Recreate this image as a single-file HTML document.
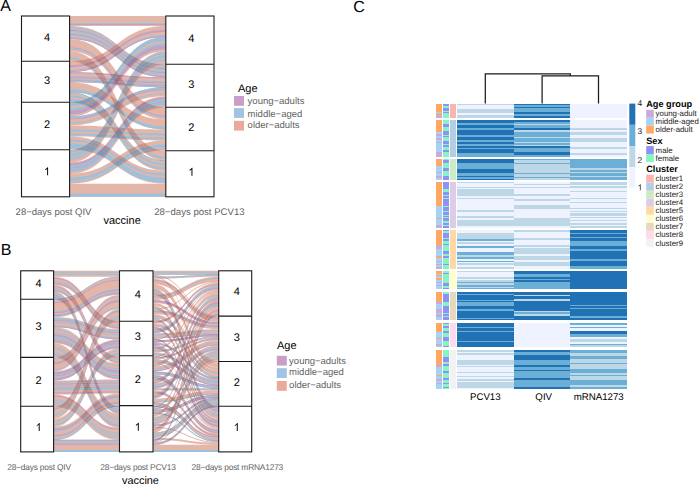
<!DOCTYPE html>
<html><head><meta charset="utf-8"><style>html,body{margin:0;padding:0;background:#fff;} svg text{font-family:"Liberation Sans", sans-serif;text-rendering:geometricPrecision;}</style></head>
<body>
<svg width="699" height="485" viewBox="0 0 699 485" style="display:block;font-family:'Liberation Sans', sans-serif">
<rect width="699" height="485" fill="#fff"/>
<g opacity="0.5"><path d="M69.60,16.00 C117.70,16.00 117.70,16.00 165.80,16.00 L165.80,26.04 C117.70,26.04 117.70,26.04 69.60,26.04 Z" fill="#c96f55"/><path d="M69.60,23.03 C117.70,23.03 117.70,23.03 165.80,23.03 L165.80,24.04 C117.70,24.04 117.70,24.04 69.60,24.04 Z" fill="#3d85b9"/><path d="M69.60,24.04 C117.70,24.04 117.70,24.04 165.80,24.04 L165.80,25.04 C117.70,25.04 117.70,25.04 69.60,25.04 Z" fill="#81478d"/></g>
<g opacity="0.5"><path d="M69.60,26.04 C117.70,26.04 117.70,64.21 165.80,64.21 L165.80,77.27 C117.70,77.27 117.70,39.10 69.60,39.10 Z" fill="#c96f55"/><path d="M69.60,27.05 C117.70,27.05 117.70,65.22 165.80,65.22 L165.80,66.22 C117.70,66.22 117.70,28.05 69.60,28.05 Z" fill="#3d85b9"/><path d="M69.60,29.06 C117.70,29.06 117.70,67.23 165.80,67.23 L165.80,68.23 C117.70,68.23 117.70,30.06 69.60,30.06 Z" fill="#3d85b9"/><path d="M69.60,30.06 C117.70,30.06 117.70,68.23 165.80,68.23 L165.80,69.24 C117.70,69.24 117.70,31.07 69.60,31.07 Z" fill="#81478d"/><path d="M69.60,31.07 C117.70,31.07 117.70,69.24 165.80,69.24 L165.80,70.24 C117.70,70.24 117.70,32.07 69.60,32.07 Z" fill="#3d85b9"/><path d="M69.60,33.08 C117.70,33.08 117.70,71.24 165.80,71.24 L165.80,72.25 C117.70,72.25 117.70,34.08 69.60,34.08 Z" fill="#3d85b9"/><path d="M69.60,34.08 C117.70,34.08 117.70,72.25 165.80,72.25 L165.80,73.25 C117.70,73.25 117.70,35.08 69.60,35.08 Z" fill="#81478d"/><path d="M69.60,35.08 C117.70,35.08 117.70,73.25 165.80,73.25 L165.80,74.26 C117.70,74.26 117.70,36.09 69.60,36.09 Z" fill="#3d85b9"/><path d="M69.60,37.09 C117.70,37.09 117.70,75.26 165.80,75.26 L165.80,76.27 C117.70,76.27 117.70,38.10 69.60,38.10 Z" fill="#3d85b9"/><path d="M69.60,38.10 C117.70,38.10 117.70,76.27 165.80,76.27 L165.80,77.27 C117.70,77.27 117.70,39.10 69.60,39.10 Z" fill="#81478d"/></g>
<g opacity="0.5"><path d="M69.60,39.10 C117.70,39.10 117.70,107.40 165.80,107.40 L165.80,119.46 C117.70,119.46 117.70,51.16 69.60,51.16 Z" fill="#c96f55"/><path d="M69.60,47.14 C117.70,47.14 117.70,115.44 165.80,115.44 L165.80,116.44 C117.70,116.44 117.70,48.14 69.60,48.14 Z" fill="#81478d"/><path d="M69.60,48.14 C117.70,48.14 117.70,116.44 165.80,116.44 L165.80,117.45 C117.70,117.45 117.70,49.15 69.60,49.15 Z" fill="#3d85b9"/></g>
<g opacity="0.5"><path d="M69.60,51.16 C117.70,51.16 117.70,150.60 165.80,150.60 L165.80,160.64 C117.70,160.64 117.70,61.20 69.60,61.20 Z" fill="#c96f55"/><path d="M69.60,57.18 C117.70,57.18 117.70,156.62 165.80,156.62 L165.80,158.63 C117.70,158.63 117.70,59.19 69.60,59.19 Z" fill="#3d85b9"/></g>
<g opacity="0.5"><path d="M69.60,61.20 C117.70,61.20 117.70,26.04 165.80,26.04 L165.80,37.09 C117.70,37.09 117.70,72.25 69.60,72.25 Z" fill="#c96f55"/><path d="M69.60,65.22 C117.70,65.22 117.70,30.06 165.80,30.06 L165.80,32.07 C117.70,32.07 117.70,67.23 69.60,67.23 Z" fill="#81478d"/><path d="M69.60,70.24 C117.70,70.24 117.70,35.08 165.80,35.08 L165.80,36.09 C117.70,36.09 117.70,71.24 69.60,71.24 Z" fill="#3d85b9"/><path d="M69.60,71.24 C117.70,71.24 117.70,36.09 165.80,36.09 L165.80,37.09 C117.70,37.09 117.70,72.25 69.60,72.25 Z" fill="#81478d"/></g>
<g opacity="0.5"><path d="M69.60,72.25 C117.70,72.25 117.70,77.27 165.80,77.27 L165.80,87.32 C117.70,87.32 117.70,82.29 69.60,82.29 Z" fill="#c96f55"/><path d="M69.60,72.25 C117.70,72.25 117.70,77.27 165.80,77.27 L165.80,78.28 C117.70,78.28 117.70,73.25 69.60,73.25 Z" fill="#81478d"/><path d="M69.60,76.27 C117.70,76.27 117.70,81.29 165.80,81.29 L165.80,82.29 C117.70,82.29 117.70,77.27 69.60,77.27 Z" fill="#3d85b9"/><path d="M69.60,77.27 C117.70,77.27 117.70,82.29 165.80,82.29 L165.80,83.30 C117.70,83.30 117.70,78.28 69.60,78.28 Z" fill="#81478d"/><path d="M69.60,79.28 C117.70,79.28 117.70,84.30 165.80,84.30 L165.80,85.31 C117.70,85.31 117.70,80.28 69.60,80.28 Z" fill="#3d85b9"/><path d="M69.60,80.28 C117.70,80.28 117.70,85.31 165.80,85.31 L165.80,86.31 C117.70,86.31 117.70,81.29 69.60,81.29 Z" fill="#81478d"/><path d="M69.60,81.29 C117.70,81.29 117.70,86.31 165.80,86.31 L165.80,87.32 C117.70,87.32 117.70,82.29 69.60,82.29 Z" fill="#3d85b9"/></g>
<g opacity="0.5"><path d="M69.60,82.29 C117.70,82.29 117.70,119.46 165.80,119.46 L165.80,129.50 C117.70,129.50 117.70,92.34 69.60,92.34 Z" fill="#c96f55"/><path d="M69.60,89.32 C117.70,89.32 117.70,126.49 165.80,126.49 L165.80,129.50 C117.70,129.50 117.70,92.34 69.60,92.34 Z" fill="#3d85b9"/></g>
<g opacity="0.5"><path d="M69.60,92.34 C117.70,92.34 117.70,160.64 165.80,160.64 L165.80,170.68 C117.70,170.68 117.70,102.38 69.60,102.38 Z" fill="#c96f55"/><path d="M69.60,92.34 C117.70,92.34 117.70,160.64 165.80,160.64 L165.80,161.64 C117.70,161.64 117.70,93.34 69.60,93.34 Z" fill="#3d85b9"/><path d="M69.60,95.35 C117.70,95.35 117.70,163.65 165.80,163.65 L165.80,165.66 C117.70,165.66 117.70,97.36 69.60,97.36 Z" fill="#3d85b9"/><path d="M69.60,99.37 C117.70,99.37 117.70,167.67 165.80,167.67 L165.80,169.68 C117.70,169.68 117.70,101.38 69.60,101.38 Z" fill="#3d85b9"/></g>
<g opacity="0.5"><path d="M69.60,102.38 C117.70,102.38 117.70,37.09 165.80,37.09 L165.80,51.16 C117.70,51.16 117.70,116.44 69.60,116.44 Z" fill="#c96f55"/><path d="M69.60,102.38 C117.70,102.38 117.70,37.09 165.80,37.09 L165.80,41.11 C117.70,41.11 117.70,106.40 69.60,106.40 Z" fill="#3d85b9"/><path d="M69.60,108.41 C117.70,108.41 117.70,43.12 165.80,43.12 L165.80,45.13 C117.70,45.13 117.70,110.42 69.60,110.42 Z" fill="#3d85b9"/><path d="M69.60,110.42 C117.70,110.42 117.70,45.13 165.80,45.13 L165.80,49.15 C117.70,49.15 117.70,114.44 69.60,114.44 Z" fill="#81478d"/></g>
<g opacity="0.5"><path d="M69.60,116.44 C117.70,116.44 117.70,87.32 165.80,87.32 L165.80,96.36 C117.70,96.36 117.70,125.48 69.60,125.48 Z" fill="#c96f55"/><path d="M69.60,116.44 C117.70,116.44 117.70,87.32 165.80,87.32 L165.80,89.32 C117.70,89.32 117.70,118.45 69.60,118.45 Z" fill="#3d85b9"/><path d="M69.60,118.45 C117.70,118.45 117.70,89.32 165.80,89.32 L165.80,90.33 C117.70,90.33 117.70,119.46 69.60,119.46 Z" fill="#81478d"/><path d="M69.60,122.47 C117.70,122.47 117.70,93.34 165.80,93.34 L165.80,94.35 C117.70,94.35 117.70,123.48 69.60,123.48 Z" fill="#3d85b9"/></g>
<g opacity="0.5"><path d="M69.60,125.48 C117.70,125.48 117.70,129.50 165.80,129.50 L165.80,140.55 C117.70,140.55 117.70,136.53 69.60,136.53 Z" fill="#c96f55"/><path d="M69.60,129.50 C117.70,129.50 117.70,133.52 165.80,133.52 L165.80,135.53 C117.70,135.53 117.70,131.51 69.60,131.51 Z" fill="#3d85b9"/><path d="M69.60,133.52 C117.70,133.52 117.70,137.54 165.80,137.54 L165.80,139.55 C117.70,139.55 117.70,135.53 69.60,135.53 Z" fill="#3d85b9"/></g>
<g opacity="0.5"><path d="M69.60,136.53 C117.70,136.53 117.70,170.68 165.80,170.68 L165.80,183.74 C117.70,183.74 117.70,149.59 69.60,149.59 Z" fill="#c96f55"/><path d="M69.60,139.55 C117.70,139.55 117.70,173.70 165.80,173.70 L165.80,175.71 C117.70,175.71 117.70,141.56 69.60,141.56 Z" fill="#3d85b9"/><path d="M69.60,143.56 C117.70,143.56 117.70,177.72 165.80,177.72 L165.80,182.74 C117.70,182.74 117.70,148.59 69.60,148.59 Z" fill="#3d85b9"/></g>
<g opacity="0.5"><path d="M69.60,149.59 C117.70,149.59 117.70,51.16 165.80,51.16 L165.80,64.21 C117.70,64.21 117.70,162.65 69.60,162.65 Z" fill="#c96f55"/><path d="M69.60,150.60 C117.70,150.60 117.70,52.16 165.80,52.16 L165.80,54.17 C117.70,54.17 117.70,152.60 69.60,152.60 Z" fill="#3d85b9"/><path d="M69.60,153.61 C117.70,153.61 117.70,55.17 165.80,55.17 L165.80,58.19 C117.70,58.19 117.70,156.62 69.60,156.62 Z" fill="#3d85b9"/><path d="M69.60,157.63 C117.70,157.63 117.70,59.19 165.80,59.19 L165.80,61.20 C117.70,61.20 117.70,159.64 69.60,159.64 Z" fill="#3d85b9"/></g>
<g opacity="0.5"><path d="M69.60,162.65 C117.70,162.65 117.70,96.36 165.80,96.36 L165.80,107.40 C117.70,107.40 117.70,173.70 69.60,173.70 Z" fill="#c96f55"/><path d="M69.60,163.65 C117.70,163.65 117.70,97.36 165.80,97.36 L165.80,99.37 C117.70,99.37 117.70,165.66 69.60,165.66 Z" fill="#81478d"/><path d="M69.60,165.66 C117.70,165.66 117.70,99.37 165.80,99.37 L165.80,101.38 C117.70,101.38 117.70,167.67 69.60,167.67 Z" fill="#3d85b9"/><path d="M69.60,167.67 C117.70,167.67 117.70,101.38 165.80,101.38 L165.80,102.38 C117.70,102.38 117.70,168.68 69.60,168.68 Z" fill="#81478d"/><path d="M69.60,168.68 C117.70,168.68 117.70,102.38 165.80,102.38 L165.80,105.40 C117.70,105.40 117.70,171.69 69.60,171.69 Z" fill="#3d85b9"/></g>
<g opacity="0.5"><path d="M69.60,173.70 C117.70,173.70 117.70,140.55 165.80,140.55 L165.80,150.60 C117.70,150.60 117.70,183.74 69.60,183.74 Z" fill="#c96f55"/><path d="M69.60,177.72 C117.70,177.72 117.70,144.57 165.80,144.57 L165.80,147.58 C117.70,147.58 117.70,180.73 69.60,180.73 Z" fill="#3d85b9"/><path d="M69.60,181.73 C117.70,181.73 117.70,148.59 165.80,148.59 L165.80,149.59 C117.70,149.59 117.70,182.74 69.60,182.74 Z" fill="#3d85b9"/></g>
<g opacity="0.5"><path d="M69.60,183.74 C117.70,183.74 117.70,183.74 165.80,183.74 L165.80,196.80 C117.70,196.80 117.70,196.80 69.60,196.80 Z" fill="#c96f55"/><path d="M69.60,193.79 C117.70,193.79 117.70,193.79 165.80,193.79 L165.80,196.80 C117.70,196.80 117.70,196.80 69.60,196.80 Z" fill="#3d85b9"/></g>
<rect x="21.5" y="16" width="48.099999999999994" height="180.8" fill="none" stroke="#1a1a1a" stroke-width="1.1"/>
<line x1="21.5" y1="61.2" x2="69.6" y2="61.2" stroke="#1a1a1a" stroke-width="1.1"/>
<line x1="21.5" y1="102.3" x2="69.6" y2="102.3" stroke="#1a1a1a" stroke-width="1.1"/>
<line x1="21.5" y1="149.7" x2="69.6" y2="149.7" stroke="#1a1a1a" stroke-width="1.1"/>
<text x="47.0" y="40.5" font-size="11" fill="#000" text-anchor="middle" font-weight="normal" >4</text>
<text x="47.0" y="83.7" font-size="11" fill="#000" text-anchor="middle" font-weight="normal" >3</text>
<text x="47.0" y="127.9" font-size="11" fill="#000" text-anchor="middle" font-weight="normal" >2</text>
<path d="M763 0H583V1147Q518 1085 412.5 1023T222 930V1104Q373 1175 486 1276T646 1472H763V0Z" fill="#000" transform="translate(43.99,175.15) scale(0.00537,-0.00537)"/>
<rect x="165.8" y="16" width="48.19999999999999" height="180.8" fill="none" stroke="#1a1a1a" stroke-width="1.1"/>
<line x1="165.8" y1="64.2" x2="214.0" y2="64.2" stroke="#1a1a1a" stroke-width="1.1"/>
<line x1="165.8" y1="107.3" x2="214.0" y2="107.3" stroke="#1a1a1a" stroke-width="1.1"/>
<line x1="165.8" y1="150.7" x2="214.0" y2="150.7" stroke="#1a1a1a" stroke-width="1.1"/>
<text x="191.4" y="42.0" font-size="11" fill="#000" text-anchor="middle" font-weight="normal" >4</text>
<text x="191.4" y="87.7" font-size="11" fill="#000" text-anchor="middle" font-weight="normal" >3</text>
<text x="191.4" y="130.9" font-size="11" fill="#000" text-anchor="middle" font-weight="normal" >2</text>
<path d="M763 0H583V1147Q518 1085 412.5 1023T222 930V1104Q373 1175 486 1276T646 1472H763V0Z" fill="#000" transform="translate(188.34,175.65) scale(0.00537,-0.00537)"/>
<text x="0.2" y="11.3" font-size="16" fill="#000" text-anchor="start" font-weight="normal" >A</text>
<text x="15.6" y="214.8" font-size="9.5" fill="#626262" text-anchor="start" font-weight="normal" >28−days post QIV</text>
<text x="154.2" y="214.8" font-size="9.6" fill="#626262" text-anchor="start" font-weight="normal" >28−days post PCV13</text>
<text x="103.5" y="224" font-size="11" fill="#000" text-anchor="start" font-weight="normal" >vaccine</text>
<text x="238" y="91.6" font-size="11" fill="#000" text-anchor="start" font-weight="normal" >Age</text>
<rect x="234" y="96.0" width="10" height="9.8" fill="#C99FCA"/>
<text x="247.6" y="104.4" font-size="9.5" fill="#626262" text-anchor="start" font-weight="normal" >young−adults</text>
<rect x="234" y="108.1" width="10" height="9.8" fill="#A1C3E4"/>
<text x="247.6" y="116.5" font-size="9.5" fill="#626262" text-anchor="start" font-weight="normal" >middle−aged</text>
<rect x="234" y="120.8" width="10" height="9.8" fill="#EBA99C"/>
<text x="247.6" y="128.4" font-size="9.5" fill="#626262" text-anchor="start" font-weight="normal" >older−adults</text>
<g opacity="0.5"><path d="M53.60,270.80 C86.55,270.80 86.55,270.80 119.50,270.80 L119.50,276.84 C86.55,276.84 86.55,276.84 53.60,276.84 Z" fill="#c96f55"/><path d="M53.60,271.81 C86.55,271.81 86.55,271.81 119.50,271.81 L119.50,272.81 C86.55,272.81 86.55,272.81 53.60,272.81 Z" fill="#3d85b9"/><path d="M53.60,273.82 C86.55,273.82 86.55,273.82 119.50,273.82 L119.50,274.82 C86.55,274.82 86.55,274.82 53.60,274.82 Z" fill="#3d85b9"/></g>
<g opacity="0.5"><path d="M53.60,276.84 C86.55,276.84 86.55,321.11 119.50,321.11 L119.50,329.15 C86.55,329.15 86.55,284.89 53.60,284.89 Z" fill="#c96f55"/><path d="M53.60,277.84 C86.55,277.84 86.55,322.11 119.50,322.11 L119.50,323.12 C86.55,323.12 86.55,278.85 53.60,278.85 Z" fill="#81478d"/><path d="M53.60,280.86 C86.55,280.86 86.55,325.13 119.50,325.13 L119.50,326.14 C86.55,326.14 86.55,281.87 53.60,281.87 Z" fill="#3d85b9"/><path d="M53.60,282.87 C86.55,282.87 86.55,327.14 119.50,327.14 L119.50,328.15 C86.55,328.15 86.55,283.88 53.60,283.88 Z" fill="#81478d"/></g>
<g opacity="0.5"><path d="M53.60,284.89 C86.55,284.89 86.55,356.32 119.50,356.32 L119.50,363.36 C86.55,363.36 86.55,291.93 53.60,291.93 Z" fill="#c96f55"/><path d="M53.60,285.89 C86.55,285.89 86.55,357.33 119.50,357.33 L119.50,358.33 C86.55,358.33 86.55,286.90 53.60,286.90 Z" fill="#81478d"/><path d="M53.60,287.90 C86.55,287.90 86.55,359.34 119.50,359.34 L119.50,360.34 C86.55,360.34 86.55,288.91 53.60,288.91 Z" fill="#3d85b9"/><path d="M53.60,289.92 C86.55,289.92 86.55,361.35 119.50,361.35 L119.50,362.36 C86.55,362.36 86.55,290.92 53.60,290.92 Z" fill="#81478d"/></g>
<g opacity="0.5"><path d="M53.60,291.93 C86.55,291.93 86.55,406.63 119.50,406.63 L119.50,413.67 C86.55,413.67 86.55,298.97 53.60,298.97 Z" fill="#c96f55"/><path d="M53.60,291.93 C86.55,291.93 86.55,406.63 119.50,406.63 L119.50,407.63 C86.55,407.63 86.55,292.93 53.60,292.93 Z" fill="#3d85b9"/><path d="M53.60,293.94 C86.55,293.94 86.55,408.64 119.50,408.64 L119.50,409.64 C86.55,409.64 86.55,294.95 53.60,294.95 Z" fill="#3d85b9"/><path d="M53.60,294.95 C86.55,294.95 86.55,409.64 119.50,409.64 L119.50,410.65 C86.55,410.65 86.55,295.95 53.60,295.95 Z" fill="#81478d"/><path d="M53.60,295.95 C86.55,295.95 86.55,410.65 119.50,410.65 L119.50,411.66 C86.55,411.66 86.55,296.96 53.60,296.96 Z" fill="#3d85b9"/><path d="M53.60,296.96 C86.55,296.96 86.55,411.66 119.50,411.66 L119.50,412.66 C86.55,412.66 86.55,297.97 53.60,297.97 Z" fill="#81478d"/><path d="M53.60,297.97 C86.55,297.97 86.55,412.66 119.50,412.66 L119.50,413.67 C86.55,413.67 86.55,298.97 53.60,298.97 Z" fill="#3d85b9"/></g>
<g opacity="0.5"><path d="M53.60,298.97 C86.55,298.97 86.55,276.84 119.50,276.84 L119.50,294.95 C86.55,294.95 86.55,317.08 53.60,317.08 Z" fill="#c96f55"/><path d="M53.60,298.97 C86.55,298.97 86.55,276.84 119.50,276.84 L119.50,277.84 C86.55,277.84 86.55,299.98 53.60,299.98 Z" fill="#3d85b9"/><path d="M53.60,301.99 C86.55,301.99 86.55,279.86 119.50,279.86 L119.50,280.86 C86.55,280.86 86.55,303.00 53.60,303.00 Z" fill="#81478d"/><path d="M53.60,311.04 C86.55,311.04 86.55,288.91 119.50,288.91 L119.50,289.92 C86.55,289.92 86.55,312.05 53.60,312.05 Z" fill="#3d85b9"/><path d="M53.60,312.05 C86.55,312.05 86.55,289.92 119.50,289.92 L119.50,290.92 C86.55,290.92 86.55,313.06 53.60,313.06 Z" fill="#81478d"/><path d="M53.60,314.06 C86.55,314.06 86.55,291.93 119.50,291.93 L119.50,292.93 C86.55,292.93 86.55,315.07 53.60,315.07 Z" fill="#3d85b9"/><path d="M53.60,315.07 C86.55,315.07 86.55,292.93 119.50,292.93 L119.50,293.94 C86.55,293.94 86.55,316.08 53.60,316.08 Z" fill="#81478d"/></g>
<g opacity="0.5"><path d="M53.60,317.08 C86.55,317.08 86.55,329.15 119.50,329.15 L119.50,339.22 C86.55,339.22 86.55,327.14 53.60,327.14 Z" fill="#c96f55"/><path d="M53.60,318.09 C86.55,318.09 86.55,330.16 119.50,330.16 L119.50,332.17 C86.55,332.17 86.55,320.10 53.60,320.10 Z" fill="#3d85b9"/><path d="M53.60,320.10 C86.55,320.10 86.55,332.17 119.50,332.17 L119.50,333.18 C86.55,333.18 86.55,321.11 53.60,321.11 Z" fill="#81478d"/><path d="M53.60,322.11 C86.55,322.11 86.55,334.19 119.50,334.19 L119.50,335.19 C86.55,335.19 86.55,323.12 53.60,323.12 Z" fill="#3d85b9"/><path d="M53.60,325.13 C86.55,325.13 86.55,337.20 119.50,337.20 L119.50,338.21 C86.55,338.21 86.55,326.14 53.60,326.14 Z" fill="#3d85b9"/><path d="M53.60,326.14 C86.55,326.14 86.55,338.21 119.50,338.21 L119.50,339.22 C86.55,339.22 86.55,327.14 53.60,327.14 Z" fill="#81478d"/></g>
<g opacity="0.5"><path d="M53.60,327.14 C86.55,327.14 86.55,363.36 119.50,363.36 L119.50,379.46 C86.55,379.46 86.55,343.24 53.60,343.24 Z" fill="#c96f55"/><path d="M53.60,329.15 C86.55,329.15 86.55,365.37 119.50,365.37 L119.50,366.38 C86.55,366.38 86.55,330.16 53.60,330.16 Z" fill="#3d85b9"/><path d="M53.60,332.17 C86.55,332.17 86.55,368.39 119.50,368.39 L119.50,369.40 C86.55,369.40 86.55,333.18 53.60,333.18 Z" fill="#3d85b9"/><path d="M53.60,334.19 C86.55,334.19 86.55,370.41 119.50,370.41 L119.50,372.42 C86.55,372.42 86.55,336.20 53.60,336.20 Z" fill="#81478d"/><path d="M53.60,336.20 C86.55,336.20 86.55,372.42 119.50,372.42 L119.50,374.43 C86.55,374.43 86.55,338.21 53.60,338.21 Z" fill="#3d85b9"/><path d="M53.60,339.22 C86.55,339.22 86.55,375.44 119.50,375.44 L119.50,376.44 C86.55,376.44 86.55,340.22 53.60,340.22 Z" fill="#81478d"/><path d="M53.60,340.22 C86.55,340.22 86.55,376.44 119.50,376.44 L119.50,377.45 C86.55,377.45 86.55,341.23 53.60,341.23 Z" fill="#3d85b9"/><path d="M53.60,341.23 C86.55,341.23 86.55,377.45 119.50,377.45 L119.50,378.45 C86.55,378.45 86.55,342.23 53.60,342.23 Z" fill="#81478d"/></g>
<g opacity="0.5"><path d="M53.60,343.24 C86.55,343.24 86.55,413.67 119.50,413.67 L119.50,427.75 C86.55,427.75 86.55,357.33 53.60,357.33 Z" fill="#c96f55"/><path d="M53.60,347.26 C86.55,347.26 86.55,417.69 119.50,417.69 L119.50,418.70 C86.55,418.70 86.55,348.27 53.60,348.27 Z" fill="#3d85b9"/><path d="M53.60,349.28 C86.55,349.28 86.55,419.70 119.50,419.70 L119.50,420.71 C86.55,420.71 86.55,350.28 53.60,350.28 Z" fill="#3d85b9"/><path d="M53.60,352.30 C86.55,352.30 86.55,422.72 119.50,422.72 L119.50,423.73 C86.55,423.73 86.55,353.30 53.60,353.30 Z" fill="#3d85b9"/><path d="M53.60,354.31 C86.55,354.31 86.55,424.74 119.50,424.74 L119.50,425.74 C86.55,425.74 86.55,355.31 53.60,355.31 Z" fill="#81478d"/><path d="M53.60,355.31 C86.55,355.31 86.55,425.74 119.50,425.74 L119.50,426.75 C86.55,426.75 86.55,356.32 53.60,356.32 Z" fill="#3d85b9"/></g>
<g opacity="0.5"><path d="M53.60,357.33 C86.55,357.33 86.55,294.95 119.50,294.95 L119.50,309.03 C86.55,309.03 86.55,371.41 53.60,371.41 Z" fill="#c96f55"/><path d="M53.60,358.33 C86.55,358.33 86.55,295.95 119.50,295.95 L119.50,296.96 C86.55,296.96 86.55,359.34 53.60,359.34 Z" fill="#3d85b9"/><path d="M53.60,362.36 C86.55,362.36 86.55,299.98 119.50,299.98 L119.50,301.99 C86.55,301.99 86.55,364.37 53.60,364.37 Z" fill="#81478d"/><path d="M53.60,369.40 C86.55,369.40 86.55,307.02 119.50,307.02 L119.50,308.03 C86.55,308.03 86.55,370.41 53.60,370.41 Z" fill="#3d85b9"/></g>
<g opacity="0.5"><path d="M53.60,371.41 C86.55,371.41 86.55,339.22 119.50,339.22 L119.50,348.27 C86.55,348.27 86.55,380.47 53.60,380.47 Z" fill="#c96f55"/><path d="M53.60,372.42 C86.55,372.42 86.55,340.22 119.50,340.22 L119.50,342.23 C86.55,342.23 86.55,374.43 53.60,374.43 Z" fill="#81478d"/><path d="M53.60,374.43 C86.55,374.43 86.55,342.23 119.50,342.23 L119.50,343.24 C86.55,343.24 86.55,375.44 53.60,375.44 Z" fill="#3d85b9"/><path d="M53.60,375.44 C86.55,375.44 86.55,343.24 119.50,343.24 L119.50,344.25 C86.55,344.25 86.55,376.44 53.60,376.44 Z" fill="#81478d"/><path d="M53.60,376.44 C86.55,376.44 86.55,344.25 119.50,344.25 L119.50,345.25 C86.55,345.25 86.55,377.45 53.60,377.45 Z" fill="#3d85b9"/><path d="M53.60,378.45 C86.55,378.45 86.55,346.26 119.50,346.26 L119.50,348.27 C86.55,348.27 86.55,380.47 53.60,380.47 Z" fill="#81478d"/></g>
<g opacity="0.5"><path d="M53.60,380.47 C86.55,380.47 86.55,379.46 119.50,379.46 L119.50,393.55 C86.55,393.55 86.55,394.55 53.60,394.55 Z" fill="#c96f55"/><path d="M53.60,381.47 C86.55,381.47 86.55,380.47 119.50,380.47 L119.50,381.47 C86.55,381.47 86.55,382.48 53.60,382.48 Z" fill="#3d85b9"/><path d="M53.60,383.48 C86.55,383.48 86.55,382.48 119.50,382.48 L119.50,383.48 C86.55,383.48 86.55,384.49 53.60,384.49 Z" fill="#81478d"/><path d="M53.60,385.50 C86.55,385.50 86.55,384.49 119.50,384.49 L119.50,385.50 C86.55,385.50 86.55,386.50 53.60,386.50 Z" fill="#3d85b9"/><path d="M53.60,387.51 C86.55,387.51 86.55,386.50 119.50,386.50 L119.50,387.51 C86.55,387.51 86.55,388.52 53.60,388.52 Z" fill="#81478d"/><path d="M53.60,388.52 C86.55,388.52 86.55,387.51 119.50,387.51 L119.50,389.52 C86.55,389.52 86.55,390.53 53.60,390.53 Z" fill="#3d85b9"/><path d="M53.60,392.54 C86.55,392.54 86.55,391.53 119.50,391.53 L119.50,392.54 C86.55,392.54 86.55,393.55 53.60,393.55 Z" fill="#81478d"/></g>
<g opacity="0.5"><path d="M53.60,394.55 C86.55,394.55 86.55,427.75 119.50,427.75 L119.50,439.83 C86.55,439.83 86.55,406.63 53.60,406.63 Z" fill="#c96f55"/><path d="M53.60,395.56 C86.55,395.56 86.55,428.76 119.50,428.76 L119.50,429.77 C86.55,429.77 86.55,396.56 53.60,396.56 Z" fill="#81478d"/><path d="M53.60,399.58 C86.55,399.58 86.55,432.78 119.50,432.78 L119.50,433.79 C86.55,433.79 86.55,400.59 53.60,400.59 Z" fill="#3d85b9"/><path d="M53.60,401.59 C86.55,401.59 86.55,434.80 119.50,434.80 L119.50,435.80 C86.55,435.80 86.55,402.60 53.60,402.60 Z" fill="#3d85b9"/><path d="M53.60,403.61 C86.55,403.61 86.55,436.81 119.50,436.81 L119.50,437.81 C86.55,437.81 86.55,404.61 53.60,404.61 Z" fill="#3d85b9"/></g>
<g opacity="0.5"><path d="M53.60,406.63 C86.55,406.63 86.55,309.03 119.50,309.03 L119.50,321.11 C86.55,321.11 86.55,418.70 53.60,418.70 Z" fill="#c96f55"/><path d="M53.60,407.63 C86.55,407.63 86.55,310.04 119.50,310.04 L119.50,311.04 C86.55,311.04 86.55,408.64 53.60,408.64 Z" fill="#3d85b9"/><path d="M53.60,408.64 C86.55,408.64 86.55,311.04 119.50,311.04 L119.50,312.05 C86.55,312.05 86.55,409.64 53.60,409.64 Z" fill="#81478d"/><path d="M53.60,413.67 C86.55,413.67 86.55,316.08 119.50,316.08 L119.50,317.08 C86.55,317.08 86.55,414.67 53.60,414.67 Z" fill="#3d85b9"/><path d="M53.60,415.68 C86.55,415.68 86.55,318.09 119.50,318.09 L119.50,319.09 C86.55,319.09 86.55,416.69 53.60,416.69 Z" fill="#3d85b9"/></g>
<g opacity="0.5"><path d="M53.60,418.70 C86.55,418.70 86.55,348.27 119.50,348.27 L119.50,356.32 C86.55,356.32 86.55,426.75 53.60,426.75 Z" fill="#c96f55"/><path d="M53.60,420.71 C86.55,420.71 86.55,350.28 119.50,350.28 L119.50,351.29 C86.55,351.29 86.55,421.72 53.60,421.72 Z" fill="#3d85b9"/><path d="M53.60,423.73 C86.55,423.73 86.55,353.30 119.50,353.30 L119.50,355.31 C86.55,355.31 86.55,425.74 53.60,425.74 Z" fill="#3d85b9"/></g>
<g opacity="0.5"><path d="M53.60,426.75 C86.55,426.75 86.55,393.55 119.50,393.55 L119.50,406.63 C86.55,406.63 86.55,439.83 53.60,439.83 Z" fill="#c96f55"/><path d="M53.60,428.76 C86.55,428.76 86.55,395.56 119.50,395.56 L119.50,397.57 C86.55,397.57 86.55,430.77 53.60,430.77 Z" fill="#81478d"/><path d="M53.60,430.77 C86.55,430.77 86.55,397.57 119.50,397.57 L119.50,398.58 C86.55,398.58 86.55,431.78 53.60,431.78 Z" fill="#3d85b9"/><path d="M53.60,434.80 C86.55,434.80 86.55,401.59 119.50,401.59 L119.50,402.60 C86.55,402.60 86.55,435.80 53.60,435.80 Z" fill="#3d85b9"/><path d="M53.60,435.80 C86.55,435.80 86.55,402.60 119.50,402.60 L119.50,403.61 C86.55,403.61 86.55,436.81 53.60,436.81 Z" fill="#81478d"/><path d="M53.60,438.82 C86.55,438.82 86.55,405.62 119.50,405.62 L119.50,406.63 C86.55,406.63 86.55,439.83 53.60,439.83 Z" fill="#3d85b9"/></g>
<g opacity="0.5"><path d="M53.60,439.83 C86.55,439.83 86.55,439.83 119.50,439.83 L119.50,451.90 C86.55,451.90 86.55,451.90 53.60,451.90 Z" fill="#c96f55"/><path d="M53.60,439.83 C86.55,439.83 86.55,439.83 119.50,439.83 L119.50,440.83 C86.55,440.83 86.55,440.83 53.60,440.83 Z" fill="#81478d"/><path d="M53.60,440.83 C86.55,440.83 86.55,440.83 119.50,440.83 L119.50,441.84 C86.55,441.84 86.55,441.84 53.60,441.84 Z" fill="#3d85b9"/><path d="M53.60,442.85 C86.55,442.85 86.55,442.85 119.50,442.85 L119.50,443.85 C86.55,443.85 86.55,443.85 53.60,443.85 Z" fill="#3d85b9"/><path d="M53.60,443.85 C86.55,443.85 86.55,443.85 119.50,443.85 L119.50,444.86 C86.55,444.86 86.55,444.86 53.60,444.86 Z" fill="#81478d"/><path d="M53.60,449.89 C86.55,449.89 86.55,449.89 119.50,449.89 L119.50,451.90 C86.55,451.90 86.55,451.90 53.60,451.90 Z" fill="#3d85b9"/></g>
<g opacity="0.5"><path d="M153.00,270.80 C185.85,270.80 185.85,270.80 218.70,270.80 L218.70,274.82 C185.85,274.82 185.85,274.82 153.00,274.82 Z" fill="#c96f55"/><path d="M153.00,271.81 C185.85,271.81 185.85,271.81 218.70,271.81 L218.70,272.81 C185.85,272.81 185.85,272.81 153.00,272.81 Z" fill="#3d85b9"/><path d="M153.00,273.82 C185.85,273.82 185.85,273.82 218.70,273.82 L218.70,274.82 C185.85,274.82 185.85,274.82 153.00,274.82 Z" fill="#3d85b9"/></g>
<g opacity="0.5"><path d="M153.00,274.82 C185.85,274.82 185.85,316.08 218.70,316.08 L218.70,317.08 C185.85,317.08 185.85,275.83 153.00,275.83 Z" fill="#c96f55"/></g>
<g opacity="0.5"><path d="M153.00,275.83 C185.85,275.83 185.85,361.35 218.70,361.35 L218.70,362.36 C185.85,362.36 185.85,276.84 153.00,276.84 Z" fill="#c96f55"/></g>
<g opacity="0.5"><path d="M153.00,276.84 C185.85,276.84 185.85,274.82 218.70,274.82 L218.70,276.84 C185.85,276.84 185.85,278.85 153.00,278.85 Z" fill="#c96f55"/><path d="M153.00,276.84 C185.85,276.84 185.85,274.82 218.70,274.82 L218.70,275.83 C185.85,275.83 185.85,277.84 153.00,277.84 Z" fill="#3d85b9"/></g>
<g opacity="0.5"><path d="M153.00,278.85 C185.85,278.85 185.85,317.08 218.70,317.08 L218.70,322.11 C185.85,322.11 185.85,283.88 153.00,283.88 Z" fill="#c96f55"/><path d="M153.00,279.86 C185.85,279.86 185.85,318.09 218.70,318.09 L218.70,319.09 C185.85,319.09 185.85,280.86 153.00,280.86 Z" fill="#81478d"/></g>
<g opacity="0.5"><path d="M153.00,283.88 C185.85,283.88 185.85,362.36 218.70,362.36 L218.70,367.39 C185.85,367.39 185.85,288.91 153.00,288.91 Z" fill="#c96f55"/></g>
<g opacity="0.5"><path d="M153.00,288.91 C185.85,288.91 185.85,406.63 218.70,406.63 L218.70,412.66 C185.85,412.66 185.85,294.95 153.00,294.95 Z" fill="#c96f55"/><path d="M153.00,288.91 C185.85,288.91 185.85,406.63 218.70,406.63 L218.70,407.63 C185.85,407.63 185.85,289.92 153.00,289.92 Z" fill="#3d85b9"/><path d="M153.00,289.92 C185.85,289.92 185.85,407.63 218.70,407.63 L218.70,408.64 C185.85,408.64 185.85,290.92 153.00,290.92 Z" fill="#81478d"/><path d="M153.00,291.93 C185.85,291.93 185.85,409.64 218.70,409.64 L218.70,410.65 C185.85,410.65 185.85,292.93 153.00,292.93 Z" fill="#3d85b9"/><path d="M153.00,292.93 C185.85,292.93 185.85,410.65 218.70,410.65 L218.70,411.66 C185.85,411.66 185.85,293.94 153.00,293.94 Z" fill="#81478d"/></g>
<g opacity="0.5"><path d="M153.00,294.95 C185.85,294.95 185.85,276.84 218.70,276.84 L218.70,281.87 C185.85,281.87 185.85,299.98 153.00,299.98 Z" fill="#c96f55"/><path d="M153.00,295.95 C185.85,295.95 185.85,277.84 218.70,277.84 L218.70,278.85 C185.85,278.85 185.85,296.96 153.00,296.96 Z" fill="#3d85b9"/></g>
<g opacity="0.5"><path d="M153.00,299.98 C185.85,299.98 185.85,322.11 218.70,322.11 L218.70,325.13 C185.85,325.13 185.85,303.00 153.00,303.00 Z" fill="#c96f55"/><path d="M153.00,299.98 C185.85,299.98 185.85,322.11 218.70,322.11 L218.70,324.12 C185.85,324.12 185.85,301.99 153.00,301.99 Z" fill="#81478d"/></g>
<g opacity="0.5"><path d="M153.00,303.00 C185.85,303.00 185.85,367.39 218.70,367.39 L218.70,370.41 C185.85,370.41 185.85,306.01 153.00,306.01 Z" fill="#c96f55"/></g>
<g opacity="0.5"><path d="M153.00,306.01 C185.85,306.01 185.85,412.66 218.70,412.66 L218.70,415.68 C185.85,415.68 185.85,309.03 153.00,309.03 Z" fill="#c96f55"/><path d="M153.00,307.02 C185.85,307.02 185.85,413.67 218.70,413.67 L218.70,414.67 C185.85,414.67 185.85,308.03 153.00,308.03 Z" fill="#3d85b9"/></g>
<g opacity="0.5"><path d="M153.00,309.03 C185.85,309.03 185.85,281.87 218.70,281.87 L218.70,282.87 C185.85,282.87 185.85,310.04 153.00,310.04 Z" fill="#c96f55"/></g>
<g opacity="0.5"><path d="M153.00,310.04 C185.85,310.04 185.85,325.13 218.70,325.13 L218.70,329.15 C185.85,329.15 185.85,314.06 153.00,314.06 Z" fill="#c96f55"/><path d="M153.00,310.04 C185.85,310.04 185.85,325.13 218.70,325.13 L218.70,326.14 C185.85,326.14 185.85,311.04 153.00,311.04 Z" fill="#3d85b9"/><path d="M153.00,311.04 C185.85,311.04 185.85,326.14 218.70,326.14 L218.70,327.14 C185.85,327.14 185.85,312.05 153.00,312.05 Z" fill="#81478d"/></g>
<g opacity="0.5"><path d="M153.00,314.06 C185.85,314.06 185.85,370.41 218.70,370.41 L218.70,374.43 C185.85,374.43 185.85,318.09 153.00,318.09 Z" fill="#c96f55"/><path d="M153.00,316.08 C185.85,316.08 185.85,372.42 218.70,372.42 L218.70,373.42 C185.85,373.42 185.85,317.08 153.00,317.08 Z" fill="#3d85b9"/></g>
<g opacity="0.5"><path d="M153.00,318.09 C185.85,318.09 185.85,415.68 218.70,415.68 L218.70,418.70 C185.85,418.70 185.85,321.11 153.00,321.11 Z" fill="#c96f55"/><path d="M153.00,318.09 C185.85,318.09 185.85,415.68 218.70,415.68 L218.70,416.69 C185.85,416.69 185.85,319.09 153.00,319.09 Z" fill="#3d85b9"/></g>
<g opacity="0.5"><path d="M153.00,321.11 C185.85,321.11 185.85,282.87 218.70,282.87 L218.70,284.89 C185.85,284.89 185.85,323.12 153.00,323.12 Z" fill="#c96f55"/><path d="M153.00,322.11 C185.85,322.11 185.85,283.88 218.70,283.88 L218.70,284.89 C185.85,284.89 185.85,323.12 153.00,323.12 Z" fill="#81478d"/></g>
<g opacity="0.5"><path d="M153.00,323.12 C185.85,323.12 185.85,374.43 218.70,374.43 L218.70,377.45 C185.85,377.45 185.85,326.14 153.00,326.14 Z" fill="#c96f55"/><path d="M153.00,325.13 C185.85,325.13 185.85,376.44 218.70,376.44 L218.70,377.45 C185.85,377.45 185.85,326.14 153.00,326.14 Z" fill="#3d85b9"/></g>
<g opacity="0.5"><path d="M153.00,326.14 C185.85,326.14 185.85,418.70 218.70,418.70 L218.70,421.72 C185.85,421.72 185.85,329.15 153.00,329.15 Z" fill="#c96f55"/><path d="M153.00,327.14 C185.85,327.14 185.85,419.70 218.70,419.70 L218.70,420.71 C185.85,420.71 185.85,328.15 153.00,328.15 Z" fill="#81478d"/></g>
<g opacity="0.5"><path d="M153.00,329.15 C185.85,329.15 185.85,284.89 218.70,284.89 L218.70,288.91 C185.85,288.91 185.85,333.18 153.00,333.18 Z" fill="#c96f55"/><path d="M153.00,330.16 C185.85,330.16 185.85,285.89 218.70,285.89 L218.70,287.90 C185.85,287.90 185.85,332.17 153.00,332.17 Z" fill="#3d85b9"/><path d="M153.00,332.17 C185.85,332.17 185.85,287.90 218.70,287.90 L218.70,288.91 C185.85,288.91 185.85,333.18 153.00,333.18 Z" fill="#81478d"/></g>
<g opacity="0.5"><path d="M153.00,333.18 C185.85,333.18 185.85,329.15 218.70,329.15 L218.70,334.19 C185.85,334.19 185.85,338.21 153.00,338.21 Z" fill="#c96f55"/><path d="M153.00,334.19 C185.85,334.19 185.85,330.16 218.70,330.16 L218.70,331.17 C185.85,331.17 185.85,335.19 153.00,335.19 Z" fill="#3d85b9"/><path d="M153.00,337.20 C185.85,337.20 185.85,333.18 218.70,333.18 L218.70,334.19 C185.85,334.19 185.85,338.21 153.00,338.21 Z" fill="#3d85b9"/></g>
<g opacity="0.5"><path d="M153.00,338.21 C185.85,338.21 185.85,421.72 218.70,421.72 L218.70,422.72 C185.85,422.72 185.85,339.22 153.00,339.22 Z" fill="#c96f55"/><path d="M153.00,338.21 C185.85,338.21 185.85,421.72 218.70,421.72 L218.70,422.72 C185.85,422.72 185.85,339.22 153.00,339.22 Z" fill="#81478d"/></g>
<g opacity="0.5"><path d="M153.00,339.22 C185.85,339.22 185.85,288.91 218.70,288.91 L218.70,289.92 C185.85,289.92 185.85,340.22 153.00,340.22 Z" fill="#c96f55"/></g>
<g opacity="0.5"><path d="M153.00,340.22 C185.85,340.22 185.85,334.19 218.70,334.19 L218.70,336.20 C185.85,336.20 185.85,342.23 153.00,342.23 Z" fill="#c96f55"/><path d="M153.00,340.22 C185.85,340.22 185.85,334.19 218.70,334.19 L218.70,336.20 C185.85,336.20 185.85,342.23 153.00,342.23 Z" fill="#81478d"/></g>
<g opacity="0.5"><path d="M153.00,342.23 C185.85,342.23 185.85,377.45 218.70,377.45 L218.70,379.46 C185.85,379.46 185.85,344.25 153.00,344.25 Z" fill="#c96f55"/><path d="M153.00,342.23 C185.85,342.23 185.85,377.45 218.70,377.45 L218.70,378.45 C185.85,378.45 185.85,343.24 153.00,343.24 Z" fill="#3d85b9"/><path d="M153.00,343.24 C185.85,343.24 185.85,378.45 218.70,378.45 L218.70,379.46 C185.85,379.46 185.85,344.25 153.00,344.25 Z" fill="#81478d"/></g>
<g opacity="0.5"><path d="M153.00,344.25 C185.85,344.25 185.85,422.72 218.70,422.72 L218.70,426.75 C185.85,426.75 185.85,348.27 153.00,348.27 Z" fill="#c96f55"/><path d="M153.00,344.25 C185.85,344.25 185.85,422.72 218.70,422.72 L218.70,423.73 C185.85,423.73 185.85,345.25 153.00,345.25 Z" fill="#3d85b9"/><path d="M153.00,346.26 C185.85,346.26 185.85,424.74 218.70,424.74 L218.70,426.75 C185.85,426.75 185.85,348.27 153.00,348.27 Z" fill="#81478d"/></g>
<g opacity="0.5"><path d="M153.00,348.27 C185.85,348.27 185.85,289.92 218.70,289.92 L218.70,291.93 C185.85,291.93 185.85,350.28 153.00,350.28 Z" fill="#c96f55"/></g>
<g opacity="0.5"><path d="M153.00,350.28 C185.85,350.28 185.85,336.20 218.70,336.20 L218.70,338.21 C185.85,338.21 185.85,352.30 153.00,352.30 Z" fill="#c96f55"/><path d="M153.00,350.28 C185.85,350.28 185.85,336.20 218.70,336.20 L218.70,337.20 C185.85,337.20 185.85,351.29 153.00,351.29 Z" fill="#3d85b9"/></g>
<g opacity="0.5"><path d="M153.00,352.30 C185.85,352.30 185.85,379.46 218.70,379.46 L218.70,382.48 C185.85,382.48 185.85,355.31 153.00,355.31 Z" fill="#c96f55"/><path d="M153.00,353.30 C185.85,353.30 185.85,380.47 218.70,380.47 L218.70,382.48 C185.85,382.48 185.85,355.31 153.00,355.31 Z" fill="#3d85b9"/></g>
<g opacity="0.5"><path d="M153.00,355.31 C185.85,355.31 185.85,426.75 218.70,426.75 L218.70,427.75 C185.85,427.75 185.85,356.32 153.00,356.32 Z" fill="#c96f55"/></g>
<g opacity="0.5"><path d="M153.00,356.32 C185.85,356.32 185.85,291.93 218.70,291.93 L218.70,292.93 C185.85,292.93 185.85,357.33 153.00,357.33 Z" fill="#c96f55"/></g>
<g opacity="0.5"><path d="M153.00,357.33 C185.85,357.33 185.85,338.21 218.70,338.21 L218.70,340.22 C185.85,340.22 185.85,359.34 153.00,359.34 Z" fill="#c96f55"/><path d="M153.00,357.33 C185.85,357.33 185.85,338.21 218.70,338.21 L218.70,339.22 C185.85,339.22 185.85,358.33 153.00,358.33 Z" fill="#81478d"/></g>
<g opacity="0.5"><path d="M153.00,359.34 C185.85,359.34 185.85,382.48 218.70,382.48 L218.70,385.50 C185.85,385.50 185.85,362.36 153.00,362.36 Z" fill="#c96f55"/><path d="M153.00,359.34 C185.85,359.34 185.85,382.48 218.70,382.48 L218.70,383.48 C185.85,383.48 185.85,360.34 153.00,360.34 Z" fill="#3d85b9"/><path d="M153.00,361.35 C185.85,361.35 185.85,384.49 218.70,384.49 L218.70,385.50 C185.85,385.50 185.85,362.36 153.00,362.36 Z" fill="#81478d"/></g>
<g opacity="0.5"><path d="M153.00,362.36 C185.85,362.36 185.85,427.75 218.70,427.75 L218.70,428.76 C185.85,428.76 185.85,363.36 153.00,363.36 Z" fill="#c96f55"/></g>
<g opacity="0.5"><path d="M153.00,363.36 C185.85,363.36 185.85,292.93 218.70,292.93 L218.70,295.95 C185.85,295.95 185.85,366.38 153.00,366.38 Z" fill="#c96f55"/><path d="M153.00,365.37 C185.85,365.37 185.85,294.95 218.70,294.95 L218.70,295.95 C185.85,295.95 185.85,366.38 153.00,366.38 Z" fill="#3d85b9"/></g>
<g opacity="0.5"><path d="M153.00,366.38 C185.85,366.38 185.85,340.22 218.70,340.22 L218.70,345.25 C185.85,345.25 185.85,371.41 153.00,371.41 Z" fill="#c96f55"/><path d="M153.00,368.39 C185.85,368.39 185.85,342.23 218.70,342.23 L218.70,343.24 C185.85,343.24 185.85,369.40 153.00,369.40 Z" fill="#3d85b9"/><path d="M153.00,370.41 C185.85,370.41 185.85,344.25 218.70,344.25 L218.70,345.25 C185.85,345.25 185.85,371.41 153.00,371.41 Z" fill="#81478d"/></g>
<g opacity="0.5"><path d="M153.00,371.41 C185.85,371.41 185.85,385.50 218.70,385.50 L218.70,388.52 C185.85,388.52 185.85,374.43 153.00,374.43 Z" fill="#c96f55"/><path d="M153.00,371.41 C185.85,371.41 185.85,385.50 218.70,385.50 L218.70,386.50 C185.85,386.50 185.85,372.42 153.00,372.42 Z" fill="#81478d"/><path d="M153.00,372.42 C185.85,372.42 185.85,386.50 218.70,386.50 L218.70,388.52 C185.85,388.52 185.85,374.43 153.00,374.43 Z" fill="#3d85b9"/></g>
<g opacity="0.5"><path d="M153.00,374.43 C185.85,374.43 185.85,428.76 218.70,428.76 L218.70,433.79 C185.85,433.79 185.85,379.46 153.00,379.46 Z" fill="#c96f55"/><path d="M153.00,375.44 C185.85,375.44 185.85,429.77 218.70,429.77 L218.70,430.77 C185.85,430.77 185.85,376.44 153.00,376.44 Z" fill="#81478d"/><path d="M153.00,376.44 C185.85,376.44 185.85,430.77 218.70,430.77 L218.70,431.78 C185.85,431.78 185.85,377.45 153.00,377.45 Z" fill="#3d85b9"/><path d="M153.00,377.45 C185.85,377.45 185.85,431.78 218.70,431.78 L218.70,432.78 C185.85,432.78 185.85,378.45 153.00,378.45 Z" fill="#81478d"/></g>
<g opacity="0.5"><path d="M153.00,379.46 C185.85,379.46 185.85,295.95 218.70,295.95 L218.70,299.98 C185.85,299.98 185.85,383.48 153.00,383.48 Z" fill="#c96f55"/><path d="M153.00,380.47 C185.85,380.47 185.85,296.96 218.70,296.96 L218.70,297.97 C185.85,297.97 185.85,381.47 153.00,381.47 Z" fill="#3d85b9"/><path d="M153.00,382.48 C185.85,382.48 185.85,298.97 218.70,298.97 L218.70,299.98 C185.85,299.98 185.85,383.48 153.00,383.48 Z" fill="#81478d"/></g>
<g opacity="0.5"><path d="M153.00,383.48 C185.85,383.48 185.85,345.25 218.70,345.25 L218.70,350.28 C185.85,350.28 185.85,388.52 153.00,388.52 Z" fill="#c96f55"/><path d="M153.00,384.49 C185.85,384.49 185.85,346.26 218.70,346.26 L218.70,347.26 C185.85,347.26 185.85,385.50 153.00,385.50 Z" fill="#3d85b9"/><path d="M153.00,386.50 C185.85,386.50 185.85,348.27 218.70,348.27 L218.70,349.28 C185.85,349.28 185.85,387.51 153.00,387.51 Z" fill="#81478d"/><path d="M153.00,387.51 C185.85,387.51 185.85,349.28 218.70,349.28 L218.70,350.28 C185.85,350.28 185.85,388.52 153.00,388.52 Z" fill="#3d85b9"/></g>
<g opacity="0.5"><path d="M153.00,388.52 C185.85,388.52 185.85,388.52 218.70,388.52 L218.70,390.53 C185.85,390.53 185.85,390.53 153.00,390.53 Z" fill="#c96f55"/><path d="M153.00,388.52 C185.85,388.52 185.85,388.52 218.70,388.52 L218.70,389.52 C185.85,389.52 185.85,389.52 153.00,389.52 Z" fill="#3d85b9"/></g>
<g opacity="0.5"><path d="M153.00,390.53 C185.85,390.53 185.85,433.79 218.70,433.79 L218.70,436.81 C185.85,436.81 185.85,393.55 153.00,393.55 Z" fill="#c96f55"/><path d="M153.00,391.53 C185.85,391.53 185.85,434.80 218.70,434.80 L218.70,435.80 C185.85,435.80 185.85,392.54 153.00,392.54 Z" fill="#81478d"/></g>
<g opacity="0.5"><path d="M153.00,393.55 C185.85,393.55 185.85,299.98 218.70,299.98 L218.70,305.01 C185.85,305.01 185.85,398.58 153.00,398.58 Z" fill="#c96f55"/><path d="M153.00,395.56 C185.85,395.56 185.85,301.99 218.70,301.99 L218.70,304.00 C185.85,304.00 185.85,397.57 153.00,397.57 Z" fill="#81478d"/><path d="M153.00,397.57 C185.85,397.57 185.85,304.00 218.70,304.00 L218.70,305.01 C185.85,305.01 185.85,398.58 153.00,398.58 Z" fill="#3d85b9"/></g>
<g opacity="0.5"><path d="M153.00,398.58 C185.85,398.58 185.85,390.53 218.70,390.53 L218.70,394.55 C185.85,394.55 185.85,402.60 153.00,402.60 Z" fill="#c96f55"/><path d="M153.00,401.59 C185.85,401.59 185.85,393.55 218.70,393.55 L218.70,394.55 C185.85,394.55 185.85,402.60 153.00,402.60 Z" fill="#3d85b9"/></g>
<g opacity="0.5"><path d="M153.00,402.60 C185.85,402.60 185.85,436.81 218.70,436.81 L218.70,440.83 C185.85,440.83 185.85,406.63 153.00,406.63 Z" fill="#c96f55"/><path d="M153.00,402.60 C185.85,402.60 185.85,436.81 218.70,436.81 L218.70,437.81 C185.85,437.81 185.85,403.61 153.00,403.61 Z" fill="#81478d"/><path d="M153.00,405.62 C185.85,405.62 185.85,439.83 218.70,439.83 L218.70,440.83 C185.85,440.83 185.85,406.63 153.00,406.63 Z" fill="#3d85b9"/></g>
<g opacity="0.5"><path d="M153.00,406.63 C185.85,406.63 185.85,305.01 218.70,305.01 L218.70,306.01 C185.85,306.01 185.85,407.63 153.00,407.63 Z" fill="#c96f55"/><path d="M153.00,406.63 C185.85,406.63 185.85,305.01 218.70,305.01 L218.70,306.01 C185.85,306.01 185.85,407.63 153.00,407.63 Z" fill="#3d85b9"/></g>
<g opacity="0.5"><path d="M153.00,407.63 C185.85,407.63 185.85,350.28 218.70,350.28 L218.70,352.30 C185.85,352.30 185.85,409.64 153.00,409.64 Z" fill="#c96f55"/><path d="M153.00,408.64 C185.85,408.64 185.85,351.29 218.70,351.29 L218.70,352.30 C185.85,352.30 185.85,409.64 153.00,409.64 Z" fill="#3d85b9"/></g>
<g opacity="0.5"><path d="M153.00,409.64 C185.85,409.64 185.85,394.55 218.70,394.55 L218.70,397.57 C185.85,397.57 185.85,412.66 153.00,412.66 Z" fill="#c96f55"/><path d="M153.00,409.64 C185.85,409.64 185.85,394.55 218.70,394.55 L218.70,395.56 C185.85,395.56 185.85,410.65 153.00,410.65 Z" fill="#81478d"/><path d="M153.00,410.65 C185.85,410.65 185.85,395.56 218.70,395.56 L218.70,396.56 C185.85,396.56 185.85,411.66 153.00,411.66 Z" fill="#3d85b9"/><path d="M153.00,411.66 C185.85,411.66 185.85,396.56 218.70,396.56 L218.70,397.57 C185.85,397.57 185.85,412.66 153.00,412.66 Z" fill="#81478d"/></g>
<g opacity="0.5"><path d="M153.00,412.66 C185.85,412.66 185.85,440.83 218.70,440.83 L218.70,441.84 C185.85,441.84 185.85,413.67 153.00,413.67 Z" fill="#c96f55"/><path d="M153.00,412.66 C185.85,412.66 185.85,440.83 218.70,440.83 L218.70,441.84 C185.85,441.84 185.85,413.67 153.00,413.67 Z" fill="#3d85b9"/></g>
<g opacity="0.5"><path d="M153.00,413.67 C185.85,413.67 185.85,306.01 218.70,306.01 L218.70,309.03 C185.85,309.03 185.85,416.69 153.00,416.69 Z" fill="#c96f55"/></g>
<g opacity="0.5"><path d="M153.00,416.69 C185.85,416.69 185.85,352.30 218.70,352.30 L218.70,360.34 C185.85,360.34 185.85,424.74 153.00,424.74 Z" fill="#c96f55"/><path d="M153.00,417.69 C185.85,417.69 185.85,353.30 218.70,353.30 L218.70,354.31 C185.85,354.31 185.85,418.70 153.00,418.70 Z" fill="#3d85b9"/><path d="M153.00,419.70 C185.85,419.70 185.85,355.31 218.70,355.31 L218.70,356.32 C185.85,356.32 185.85,420.71 153.00,420.71 Z" fill="#3d85b9"/><path d="M153.00,422.72 C185.85,422.72 185.85,358.33 218.70,358.33 L218.70,359.34 C185.85,359.34 185.85,423.73 153.00,423.73 Z" fill="#3d85b9"/></g>
<g opacity="0.5"><path d="M153.00,424.74 C185.85,424.74 185.85,397.57 218.70,397.57 L218.70,399.58 C185.85,399.58 185.85,426.75 153.00,426.75 Z" fill="#c96f55"/><path d="M153.00,424.74 C185.85,424.74 185.85,397.57 218.70,397.57 L218.70,398.58 C185.85,398.58 185.85,425.74 153.00,425.74 Z" fill="#81478d"/><path d="M153.00,425.74 C185.85,425.74 185.85,398.58 218.70,398.58 L218.70,399.58 C185.85,399.58 185.85,426.75 153.00,426.75 Z" fill="#3d85b9"/></g>
<g opacity="0.5"><path d="M153.00,426.75 C185.85,426.75 185.85,441.84 218.70,441.84 L218.70,442.85 C185.85,442.85 185.85,427.75 153.00,427.75 Z" fill="#c96f55"/></g>
<g opacity="0.5"><path d="M153.00,427.75 C185.85,427.75 185.85,309.03 218.70,309.03 L218.70,314.06 C185.85,314.06 185.85,432.78 153.00,432.78 Z" fill="#c96f55"/><path d="M153.00,428.76 C185.85,428.76 185.85,310.04 218.70,310.04 L218.70,311.04 C185.85,311.04 185.85,429.77 153.00,429.77 Z" fill="#81478d"/></g>
<g opacity="0.5"><path d="M153.00,432.78 C185.85,432.78 185.85,399.58 218.70,399.58 L218.70,404.61 C185.85,404.61 185.85,437.81 153.00,437.81 Z" fill="#c96f55"/><path d="M153.00,432.78 C185.85,432.78 185.85,399.58 218.70,399.58 L218.70,400.59 C185.85,400.59 185.85,433.79 153.00,433.79 Z" fill="#3d85b9"/><path d="M153.00,434.80 C185.85,434.80 185.85,401.59 218.70,401.59 L218.70,402.60 C185.85,402.60 185.85,435.80 153.00,435.80 Z" fill="#3d85b9"/><path d="M153.00,436.81 C185.85,436.81 185.85,403.61 218.70,403.61 L218.70,404.61 C185.85,404.61 185.85,437.81 153.00,437.81 Z" fill="#3d85b9"/></g>
<g opacity="0.5"><path d="M153.00,437.81 C185.85,437.81 185.85,442.85 218.70,442.85 L218.70,444.86 C185.85,444.86 185.85,439.83 153.00,439.83 Z" fill="#c96f55"/></g>
<g opacity="0.5"><path d="M153.00,439.83 C185.85,439.83 185.85,314.06 218.70,314.06 L218.70,316.08 C185.85,316.08 185.85,441.84 153.00,441.84 Z" fill="#c96f55"/><path d="M153.00,439.83 C185.85,439.83 185.85,314.06 218.70,314.06 L218.70,315.07 C185.85,315.07 185.85,440.83 153.00,440.83 Z" fill="#81478d"/><path d="M153.00,440.83 C185.85,440.83 185.85,315.07 218.70,315.07 L218.70,316.08 C185.85,316.08 185.85,441.84 153.00,441.84 Z" fill="#3d85b9"/></g>
<g opacity="0.5"><path d="M153.00,441.84 C185.85,441.84 185.85,360.34 218.70,360.34 L218.70,361.35 C185.85,361.35 185.85,442.85 153.00,442.85 Z" fill="#c96f55"/></g>
<g opacity="0.5"><path d="M153.00,442.85 C185.85,442.85 185.85,404.61 218.70,404.61 L218.70,406.63 C185.85,406.63 185.85,444.86 153.00,444.86 Z" fill="#c96f55"/><path d="M153.00,442.85 C185.85,442.85 185.85,404.61 218.70,404.61 L218.70,405.62 C185.85,405.62 185.85,443.85 153.00,443.85 Z" fill="#3d85b9"/><path d="M153.00,443.85 C185.85,443.85 185.85,405.62 218.70,405.62 L218.70,406.63 C185.85,406.63 185.85,444.86 153.00,444.86 Z" fill="#81478d"/></g>
<g opacity="0.5"><path d="M153.00,444.86 C185.85,444.86 185.85,444.86 218.70,444.86 L218.70,451.90 C185.85,451.90 185.85,451.90 153.00,451.90 Z" fill="#c96f55"/><path d="M153.00,449.89 C185.85,449.89 185.85,449.89 218.70,449.89 L218.70,451.90 C185.85,451.90 185.85,451.90 153.00,451.90 Z" fill="#3d85b9"/></g>
<rect x="20.7" y="270.8" width="32.900000000000006" height="181.09999999999997" fill="none" stroke="#1a1a1a" stroke-width="1.1"/>
<line x1="20.7" y1="299.3" x2="53.6" y2="299.3" stroke="#1a1a1a" stroke-width="1.1"/>
<line x1="20.7" y1="357.4" x2="53.6" y2="357.4" stroke="#1a1a1a" stroke-width="1.1"/>
<line x1="20.7" y1="406.3" x2="53.6" y2="406.3" stroke="#1a1a1a" stroke-width="1.1"/>
<text x="38.6" y="286.9" font-size="11" fill="#000" text-anchor="middle" font-weight="normal" >4</text>
<text x="38.6" y="330.2" font-size="11" fill="#000" text-anchor="middle" font-weight="normal" >3</text>
<text x="38.6" y="383.8" font-size="11" fill="#000" text-anchor="middle" font-weight="normal" >2</text>
<path d="M763 0H583V1147Q518 1085 412.5 1023T222 930V1104Q373 1175 486 1276T646 1472H763V0Z" fill="#000" transform="translate(35.59,431.00) scale(0.00537,-0.00537)"/>
<rect x="119.5" y="270.8" width="33.5" height="181.09999999999997" fill="none" stroke="#1a1a1a" stroke-width="1.1"/>
<line x1="119.5" y1="321.2" x2="153.0" y2="321.2" stroke="#1a1a1a" stroke-width="1.1"/>
<line x1="119.5" y1="355.7" x2="153.0" y2="355.7" stroke="#1a1a1a" stroke-width="1.1"/>
<line x1="119.5" y1="405.6" x2="153.0" y2="405.6" stroke="#1a1a1a" stroke-width="1.1"/>
<text x="137.8" y="297.9" font-size="11" fill="#000" text-anchor="middle" font-weight="normal" >4</text>
<text x="137.8" y="340.3" font-size="11" fill="#000" text-anchor="middle" font-weight="normal" >3</text>
<text x="137.8" y="382.5" font-size="11" fill="#000" text-anchor="middle" font-weight="normal" >2</text>
<path d="M763 0H583V1147Q518 1085 412.5 1023T222 930V1104Q373 1175 486 1276T646 1472H763V0Z" fill="#000" transform="translate(134.69,430.65) scale(0.00537,-0.00537)"/>
<rect x="218.7" y="270.8" width="33.0" height="181.09999999999997" fill="none" stroke="#1a1a1a" stroke-width="1.1"/>
<line x1="218.7" y1="316.1" x2="251.7" y2="316.1" stroke="#1a1a1a" stroke-width="1.1"/>
<line x1="218.7" y1="361.5" x2="251.7" y2="361.5" stroke="#1a1a1a" stroke-width="1.1"/>
<line x1="218.7" y1="406.3" x2="251.7" y2="406.3" stroke="#1a1a1a" stroke-width="1.1"/>
<text x="236.7" y="295.4" font-size="11" fill="#000" text-anchor="middle" font-weight="normal" >4</text>
<text x="236.7" y="340.7" font-size="11" fill="#000" text-anchor="middle" font-weight="normal" >3</text>
<text x="236.7" y="385.8" font-size="11" fill="#000" text-anchor="middle" font-weight="normal" >2</text>
<path d="M763 0H583V1147Q518 1085 412.5 1023T222 930V1104Q373 1175 486 1276T646 1472H763V0Z" fill="#000" transform="translate(233.64,431.00) scale(0.00537,-0.00537)"/>
<text x="0.7" y="255.3" font-size="16" fill="#000" text-anchor="start" font-weight="normal" >B</text>
<text x="7.2" y="469.8" font-size="8.4" fill="#626262" text-anchor="start" font-weight="normal" letter-spacing="-0.2">28−days post QIV</text>
<text x="100.3" y="469.8" font-size="8.4" fill="#626262" text-anchor="start" font-weight="normal" letter-spacing="-0.2">28−days post PCV13</text>
<text x="191.6" y="469.8" font-size="8.4" fill="#626262" text-anchor="start" font-weight="normal" letter-spacing="-0.2">28−days post mRNA1273</text>
<text x="122" y="484.4" font-size="10.9" fill="#000" text-anchor="start" font-weight="normal" >vaccine</text>
<text x="277.0" y="348.5" font-size="11" fill="#000" text-anchor="start" font-weight="normal" >Age</text>
<rect x="276.8" y="355.8" width="10" height="9.8" fill="#C99FCA"/>
<text x="289.1" y="363.7" font-size="9.5" fill="#626262" text-anchor="start" font-weight="normal" >young−adults</text>
<rect x="276.8" y="368.2" width="10" height="9.8" fill="#A1C3E4"/>
<text x="289.1" y="375.2" font-size="9.5" fill="#626262" text-anchor="start" font-weight="normal" >middle−aged</text>
<rect x="276.8" y="381.0" width="10" height="9.8" fill="#EBA99C"/>
<text x="289.1" y="387.7" font-size="9.5" fill="#626262" text-anchor="start" font-weight="normal" >older−adults</text>
<text x="353.3" y="11.5" font-size="16" fill="#000" text-anchor="start" font-weight="normal" >C</text>
<g shape-rendering="crispEdges">
<rect x="456.9" y="103.50" width="56.70" height="1.50" fill="#BDD7E7"/>
<rect x="456.9" y="105.00" width="56.70" height="4.30" fill="#EFF3FF"/>
<rect x="456.9" y="109.30" width="56.70" height="3.70" fill="#BDD7E7"/>
<rect x="456.9" y="113.00" width="56.70" height="2.10" fill="#EFF3FF"/>
<rect x="456.9" y="115.10" width="56.70" height="2.50" fill="#BDD7E7"/>
<rect x="513.6" y="103.50" width="56.60" height="1.50" fill="#2171B5"/>
<rect x="513.6" y="105.00" width="56.60" height="1.50" fill="#6BAED6"/>
<rect x="513.6" y="106.50" width="56.60" height="1.20" fill="#2171B5"/>
<rect x="513.6" y="107.70" width="56.60" height="4.10" fill="#6BAED6"/>
<rect x="513.6" y="111.80" width="56.60" height="1.80" fill="#2171B5"/>
<rect x="513.6" y="113.60" width="56.60" height="1.90" fill="#6BAED6"/>
<rect x="513.6" y="115.50" width="56.60" height="2.10" fill="#2171B5"/>
<rect x="570.2" y="103.50" width="56.60" height="14.10" fill="#EFF3FF"/>
<rect x="436.2" y="103.50" width="5.80" height="8.30" fill="#FFA863"/>
<rect x="436.2" y="111.80" width="5.80" height="1.20" fill="#A6D2F8"/>
<rect x="436.2" y="113.00" width="5.80" height="1.90" fill="#FFA863"/>
<rect x="436.2" y="114.90" width="5.80" height="2.70" fill="#C9AADA"/>
<rect x="443.1" y="103.50" width="5.80" height="2.50" fill="#9090F8"/>
<rect x="443.1" y="106.00" width="5.80" height="1.70" fill="#84F5C3"/>
<rect x="443.1" y="107.70" width="5.80" height="2.80" fill="#9090F8"/>
<rect x="443.1" y="110.50" width="5.80" height="1.50" fill="#84F5C3"/>
<rect x="443.1" y="112.00" width="5.80" height="1.00" fill="#9090F8"/>
<rect x="443.1" y="113.00" width="5.80" height="4.60" fill="#84F5C3"/>
<rect x="449.9" y="103.5" width="5.8" height="14.10" fill="#FBB4AE"/>
<rect x="456.9" y="119.80" width="56.70" height="3.10" fill="#2171B5"/>
<rect x="456.9" y="122.90" width="56.70" height="1.90" fill="#6BAED6"/>
<rect x="456.9" y="124.80" width="56.70" height="3.40" fill="#2171B5"/>
<rect x="456.9" y="128.20" width="56.70" height="1.50" fill="#6BAED6"/>
<rect x="456.9" y="129.70" width="56.70" height="5.60" fill="#2171B5"/>
<rect x="456.9" y="135.30" width="56.70" height="1.50" fill="#6BAED6"/>
<rect x="456.9" y="136.80" width="56.70" height="3.40" fill="#2171B5"/>
<rect x="456.9" y="140.20" width="56.70" height="1.90" fill="#6BAED6"/>
<rect x="456.9" y="142.10" width="56.70" height="1.80" fill="#2171B5"/>
<rect x="456.9" y="143.90" width="56.70" height="2.10" fill="#6BAED6"/>
<rect x="456.9" y="146.00" width="56.70" height="1.60" fill="#2171B5"/>
<rect x="456.9" y="147.60" width="56.70" height="1.30" fill="#6BAED6"/>
<rect x="456.9" y="148.90" width="56.70" height="4.30" fill="#2171B5"/>
<rect x="456.9" y="153.20" width="56.70" height="3.50" fill="#6BAED6"/>
<rect x="513.6" y="119.80" width="56.60" height="2.50" fill="#2171B5"/>
<rect x="513.6" y="122.30" width="56.60" height="1.20" fill="#6BAED6"/>
<rect x="513.6" y="123.50" width="56.60" height="1.90" fill="#BDD7E7"/>
<rect x="513.6" y="125.40" width="56.60" height="2.40" fill="#6BAED6"/>
<rect x="513.6" y="127.80" width="56.60" height="2.50" fill="#2171B5"/>
<rect x="513.6" y="130.30" width="56.60" height="1.60" fill="#BDD7E7"/>
<rect x="513.6" y="131.90" width="56.60" height="4.60" fill="#6BAED6"/>
<rect x="513.6" y="136.50" width="56.60" height="1.20" fill="#BDD7E7"/>
<rect x="513.6" y="137.70" width="56.60" height="4.40" fill="#6BAED6"/>
<rect x="513.6" y="142.10" width="56.60" height="1.20" fill="#BDD7E7"/>
<rect x="513.6" y="143.30" width="56.60" height="1.30" fill="#6BAED6"/>
<rect x="513.6" y="144.60" width="56.60" height="1.40" fill="#BDD7E7"/>
<rect x="513.6" y="146.00" width="56.60" height="1.60" fill="#2171B5"/>
<rect x="513.6" y="147.60" width="56.60" height="4.40" fill="#6BAED6"/>
<rect x="513.6" y="152.00" width="56.60" height="3.00" fill="#2171B5"/>
<rect x="513.6" y="155.00" width="56.60" height="1.70" fill="#6BAED6"/>
<rect x="570.2" y="119.80" width="56.60" height="0.60" fill="#BDD7E7"/>
<rect x="570.2" y="120.40" width="56.60" height="7.80" fill="#EFF3FF"/>
<rect x="570.2" y="128.20" width="56.60" height="1.80" fill="#BDD7E7"/>
<rect x="570.2" y="130.00" width="56.60" height="2.40" fill="#EFF3FF"/>
<rect x="570.2" y="132.40" width="56.60" height="2.50" fill="#BDD7E7"/>
<rect x="570.2" y="134.90" width="56.60" height="3.50" fill="#EFF3FF"/>
<rect x="570.2" y="138.40" width="56.60" height="3.40" fill="#BDD7E7"/>
<rect x="570.2" y="141.80" width="56.60" height="5.00" fill="#EFF3FF"/>
<rect x="570.2" y="146.80" width="56.60" height="2.10" fill="#BDD7E7"/>
<rect x="570.2" y="148.90" width="56.60" height="3.70" fill="#EFF3FF"/>
<rect x="570.2" y="152.60" width="56.60" height="2.10" fill="#BDD7E7"/>
<rect x="570.2" y="154.70" width="56.60" height="2.00" fill="#EFF3FF"/>
<rect x="436.2" y="119.80" width="5.80" height="12.60" fill="#FFA863"/>
<rect x="436.2" y="132.40" width="5.80" height="1.60" fill="#A6D2F8"/>
<rect x="436.2" y="134.00" width="5.80" height="1.90" fill="#C9AADA"/>
<rect x="436.2" y="135.90" width="5.80" height="2.50" fill="#A6D2F8"/>
<rect x="436.2" y="138.40" width="5.80" height="1.20" fill="#C9AADA"/>
<rect x="436.2" y="139.60" width="5.80" height="1.90" fill="#A6D2F8"/>
<rect x="436.2" y="141.50" width="5.80" height="1.20" fill="#C9AADA"/>
<rect x="436.2" y="142.70" width="5.80" height="9.30" fill="#A6D2F8"/>
<rect x="436.2" y="152.00" width="5.80" height="4.70" fill="#C9AADA"/>
<rect x="443.1" y="119.80" width="5.80" height="4.20" fill="#84F5C3"/>
<rect x="443.1" y="124.00" width="5.80" height="3.40" fill="#9090F8"/>
<rect x="443.1" y="127.40" width="5.80" height="3.60" fill="#84F5C3"/>
<rect x="443.1" y="131.00" width="5.80" height="3.80" fill="#9090F8"/>
<rect x="443.1" y="134.80" width="5.80" height="1.40" fill="#84F5C3"/>
<rect x="443.1" y="136.20" width="5.80" height="1.20" fill="#9090F8"/>
<rect x="443.1" y="137.40" width="5.80" height="3.80" fill="#84F5C3"/>
<rect x="443.1" y="141.20" width="5.80" height="2.60" fill="#9090F8"/>
<rect x="443.1" y="143.80" width="5.80" height="1.20" fill="#84F5C3"/>
<rect x="443.1" y="145.00" width="5.80" height="2.00" fill="#9090F8"/>
<rect x="443.1" y="147.00" width="5.80" height="2.50" fill="#84F5C3"/>
<rect x="443.1" y="149.50" width="5.80" height="2.50" fill="#9090F8"/>
<rect x="443.1" y="152.00" width="5.80" height="4.70" fill="#84F5C3"/>
<rect x="449.9" y="119.8" width="5.8" height="36.90" fill="#B3CDE3"/>
<rect x="456.9" y="159.20" width="56.70" height="3.60" fill="#2171B5"/>
<rect x="456.9" y="162.80" width="56.70" height="6.20" fill="#6BAED6"/>
<rect x="456.9" y="169.00" width="56.70" height="3.70" fill="#2171B5"/>
<rect x="456.9" y="172.70" width="56.70" height="3.10" fill="#6BAED6"/>
<rect x="456.9" y="175.80" width="56.70" height="1.20" fill="#2171B5"/>
<rect x="456.9" y="177.00" width="56.70" height="1.50" fill="#6BAED6"/>
<rect x="456.9" y="178.50" width="56.70" height="1.30" fill="#2171B5"/>
<rect x="513.6" y="159.20" width="56.60" height="0.80" fill="#6BAED6"/>
<rect x="513.6" y="160.00" width="56.60" height="3.20" fill="#BDD7E7"/>
<rect x="513.6" y="163.20" width="56.60" height="1.20" fill="#6BAED6"/>
<rect x="513.6" y="164.40" width="56.60" height="8.30" fill="#BDD7E7"/>
<rect x="513.6" y="172.70" width="56.60" height="1.20" fill="#6BAED6"/>
<rect x="513.6" y="173.90" width="56.60" height="3.10" fill="#BDD7E7"/>
<rect x="513.6" y="177.00" width="56.60" height="1.30" fill="#6BAED6"/>
<rect x="513.6" y="178.30" width="56.60" height="1.50" fill="#BDD7E7"/>
<rect x="570.2" y="159.20" width="56.60" height="9.20" fill="#6BAED6"/>
<rect x="570.2" y="168.40" width="56.60" height="1.20" fill="#BDD7E7"/>
<rect x="570.2" y="169.60" width="56.60" height="1.90" fill="#6BAED6"/>
<rect x="570.2" y="171.50" width="56.60" height="1.20" fill="#BDD7E7"/>
<rect x="570.2" y="172.70" width="56.60" height="3.10" fill="#6BAED6"/>
<rect x="570.2" y="175.80" width="56.60" height="1.20" fill="#BDD7E7"/>
<rect x="570.2" y="177.00" width="56.60" height="2.80" fill="#6BAED6"/>
<rect x="436.2" y="159.20" width="5.80" height="6.70" fill="#FFA863"/>
<rect x="436.2" y="165.90" width="5.80" height="5.60" fill="#A6D2F8"/>
<rect x="436.2" y="171.50" width="5.80" height="1.20" fill="#C9AADA"/>
<rect x="436.2" y="172.70" width="5.80" height="3.10" fill="#A6D2F8"/>
<rect x="436.2" y="175.80" width="5.80" height="2.50" fill="#C9AADA"/>
<rect x="436.2" y="178.30" width="5.80" height="1.50" fill="#A6D2F8"/>
<rect x="443.1" y="159.20" width="5.80" height="1.10" fill="#84F5C3"/>
<rect x="443.1" y="160.30" width="5.80" height="2.50" fill="#9090F8"/>
<rect x="443.1" y="162.80" width="5.80" height="5.60" fill="#84F5C3"/>
<rect x="443.1" y="168.40" width="5.80" height="2.50" fill="#9090F8"/>
<rect x="443.1" y="170.90" width="5.80" height="4.90" fill="#84F5C3"/>
<rect x="443.1" y="175.80" width="5.80" height="4.00" fill="#9090F8"/>
<rect x="449.9" y="159.2" width="5.8" height="20.60" fill="#CCEBC5"/>
<rect x="456.9" y="182.00" width="56.70" height="1.00" fill="#BDD7E7"/>
<rect x="456.9" y="183.00" width="56.70" height="3.70" fill="#EFF3FF"/>
<rect x="456.9" y="186.70" width="56.70" height="1.70" fill="#BDD7E7"/>
<rect x="456.9" y="188.40" width="56.70" height="1.00" fill="#EFF3FF"/>
<rect x="456.9" y="189.40" width="56.70" height="6.50" fill="#BDD7E7"/>
<rect x="456.9" y="195.90" width="56.70" height="2.20" fill="#EFF3FF"/>
<rect x="456.9" y="198.10" width="56.70" height="1.00" fill="#BDD7E7"/>
<rect x="456.9" y="199.10" width="56.70" height="10.70" fill="#EFF3FF"/>
<rect x="456.9" y="209.80" width="56.70" height="1.90" fill="#BDD7E7"/>
<rect x="456.9" y="211.70" width="56.70" height="4.20" fill="#EFF3FF"/>
<rect x="456.9" y="215.90" width="56.70" height="1.60" fill="#BDD7E7"/>
<rect x="456.9" y="217.50" width="56.70" height="2.50" fill="#EFF3FF"/>
<rect x="456.9" y="220.00" width="56.70" height="6.40" fill="#BDD7E7"/>
<rect x="456.9" y="226.40" width="56.70" height="1.30" fill="#EFF3FF"/>
<rect x="513.6" y="182.00" width="56.60" height="1.80" fill="#EFF3FF"/>
<rect x="513.6" y="183.80" width="56.60" height="0.90" fill="#BDD7E7"/>
<rect x="513.6" y="184.70" width="56.60" height="2.00" fill="#EFF3FF"/>
<rect x="513.6" y="186.70" width="56.60" height="0.90" fill="#BDD7E7"/>
<rect x="513.6" y="187.60" width="56.60" height="6.10" fill="#EFF3FF"/>
<rect x="513.6" y="193.70" width="56.60" height="2.50" fill="#BDD7E7"/>
<rect x="513.6" y="196.20" width="56.60" height="2.50" fill="#EFF3FF"/>
<rect x="513.6" y="198.70" width="56.60" height="1.90" fill="#BDD7E7"/>
<rect x="513.6" y="200.60" width="56.60" height="4.30" fill="#EFF3FF"/>
<rect x="513.6" y="204.90" width="56.60" height="3.70" fill="#BDD7E7"/>
<rect x="513.6" y="208.60" width="56.60" height="9.10" fill="#EFF3FF"/>
<rect x="513.6" y="217.70" width="56.60" height="8.70" fill="#BDD7E7"/>
<rect x="513.6" y="226.40" width="56.60" height="1.30" fill="#EFF3FF"/>
<rect x="570.2" y="182.00" width="56.60" height="3.10" fill="#BDD7E7"/>
<rect x="570.2" y="185.10" width="56.60" height="1.20" fill="#EFF3FF"/>
<rect x="570.2" y="186.30" width="56.60" height="1.30" fill="#BDD7E7"/>
<rect x="570.2" y="187.60" width="56.60" height="3.30" fill="#EFF3FF"/>
<rect x="570.2" y="190.90" width="56.60" height="1.00" fill="#BDD7E7"/>
<rect x="570.2" y="191.90" width="56.60" height="5.90" fill="#EFF3FF"/>
<rect x="570.2" y="197.80" width="56.60" height="1.00" fill="#BDD7E7"/>
<rect x="570.2" y="198.80" width="56.60" height="3.20" fill="#EFF3FF"/>
<rect x="570.2" y="202.00" width="56.60" height="1.00" fill="#BDD7E7"/>
<rect x="570.2" y="203.00" width="56.60" height="5.00" fill="#EFF3FF"/>
<rect x="570.2" y="208.00" width="56.60" height="1.00" fill="#BDD7E7"/>
<rect x="570.2" y="209.00" width="56.60" height="1.50" fill="#EFF3FF"/>
<rect x="570.2" y="210.50" width="56.60" height="1.20" fill="#BDD7E7"/>
<rect x="570.2" y="211.70" width="56.60" height="1.30" fill="#EFF3FF"/>
<rect x="570.2" y="213.00" width="56.60" height="1.80" fill="#BDD7E7"/>
<rect x="570.2" y="214.80" width="56.60" height="0.40" fill="#EFF3FF"/>
<rect x="570.2" y="215.20" width="56.60" height="1.10" fill="#BDD7E7"/>
<rect x="570.2" y="216.30" width="56.60" height="0.20" fill="#EFF3FF"/>
<rect x="570.2" y="216.50" width="56.60" height="1.80" fill="#BDD7E7"/>
<rect x="570.2" y="218.30" width="56.60" height="1.90" fill="#EFF3FF"/>
<rect x="570.2" y="220.20" width="56.60" height="1.20" fill="#BDD7E7"/>
<rect x="570.2" y="221.40" width="56.60" height="1.90" fill="#EFF3FF"/>
<rect x="570.2" y="223.30" width="56.60" height="1.20" fill="#BDD7E7"/>
<rect x="570.2" y="224.50" width="56.60" height="1.30" fill="#EFF3FF"/>
<rect x="570.2" y="225.80" width="56.60" height="1.90" fill="#BDD7E7"/>
<rect x="436.2" y="182.00" width="5.80" height="23.50" fill="#FFA863"/>
<rect x="436.2" y="205.50" width="5.80" height="12.20" fill="#A6D2F8"/>
<rect x="436.2" y="217.70" width="5.80" height="1.00" fill="#FFA863"/>
<rect x="436.2" y="218.70" width="5.80" height="5.80" fill="#A6D2F8"/>
<rect x="436.2" y="224.50" width="5.80" height="3.20" fill="#C9AADA"/>
<rect x="443.1" y="182.00" width="5.80" height="7.40" fill="#9090F8"/>
<rect x="443.1" y="189.40" width="5.80" height="2.50" fill="#84F5C3"/>
<rect x="443.1" y="191.90" width="5.80" height="3.10" fill="#9090F8"/>
<rect x="443.1" y="195.00" width="5.80" height="1.20" fill="#84F5C3"/>
<rect x="443.1" y="196.20" width="5.80" height="1.30" fill="#9090F8"/>
<rect x="443.1" y="197.50" width="5.80" height="1.60" fill="#84F5C3"/>
<rect x="443.1" y="199.10" width="5.80" height="6.40" fill="#9090F8"/>
<rect x="443.1" y="205.50" width="5.80" height="1.90" fill="#84F5C3"/>
<rect x="443.1" y="207.40" width="5.80" height="3.10" fill="#9090F8"/>
<rect x="443.1" y="210.50" width="5.80" height="1.80" fill="#84F5C3"/>
<rect x="443.1" y="212.30" width="5.80" height="2.50" fill="#9090F8"/>
<rect x="443.1" y="214.80" width="5.80" height="0.70" fill="#84F5C3"/>
<rect x="443.1" y="215.50" width="5.80" height="1.60" fill="#9090F8"/>
<rect x="443.1" y="217.10" width="5.80" height="1.20" fill="#84F5C3"/>
<rect x="443.1" y="218.30" width="5.80" height="2.50" fill="#9090F8"/>
<rect x="443.1" y="220.80" width="5.80" height="2.10" fill="#84F5C3"/>
<rect x="443.1" y="222.90" width="5.80" height="1.60" fill="#9090F8"/>
<rect x="443.1" y="224.50" width="5.80" height="1.30" fill="#84F5C3"/>
<rect x="443.1" y="225.80" width="5.80" height="1.90" fill="#9090F8"/>
<rect x="449.9" y="182.0" width="5.8" height="45.70" fill="#DECBE4"/>
<rect x="456.9" y="229.80" width="56.70" height="2.80" fill="#EFF3FF"/>
<rect x="456.9" y="232.60" width="56.70" height="6.80" fill="#BDD7E7"/>
<rect x="456.9" y="239.40" width="56.70" height="1.60" fill="#6BAED6"/>
<rect x="456.9" y="241.00" width="56.70" height="1.20" fill="#EFF3FF"/>
<rect x="456.9" y="242.20" width="56.70" height="1.50" fill="#BDD7E7"/>
<rect x="456.9" y="243.70" width="56.70" height="2.70" fill="#EFF3FF"/>
<rect x="456.9" y="246.40" width="56.70" height="1.60" fill="#6BAED6"/>
<rect x="456.9" y="248.00" width="56.70" height="3.70" fill="#EFF3FF"/>
<rect x="456.9" y="251.70" width="56.70" height="3.10" fill="#6BAED6"/>
<rect x="456.9" y="254.80" width="56.70" height="1.90" fill="#BDD7E7"/>
<rect x="456.9" y="256.70" width="56.70" height="2.50" fill="#6BAED6"/>
<rect x="456.9" y="259.20" width="56.70" height="1.60" fill="#EFF3FF"/>
<rect x="456.9" y="260.80" width="56.70" height="1.20" fill="#6BAED6"/>
<rect x="456.9" y="262.00" width="56.70" height="1.30" fill="#EFF3FF"/>
<rect x="456.9" y="263.30" width="56.70" height="1.40" fill="#BDD7E7"/>
<rect x="456.9" y="264.70" width="56.70" height="1.90" fill="#EFF3FF"/>
<rect x="456.9" y="266.60" width="56.70" height="2.20" fill="#BDD7E7"/>
<rect x="513.6" y="229.80" width="56.60" height="2.20" fill="#BDD7E7"/>
<rect x="513.6" y="232.00" width="56.60" height="5.80" fill="#EFF3FF"/>
<rect x="513.6" y="237.80" width="56.60" height="2.20" fill="#BDD7E7"/>
<rect x="513.6" y="240.00" width="56.60" height="5.00" fill="#EFF3FF"/>
<rect x="513.6" y="245.00" width="56.60" height="1.80" fill="#BDD7E7"/>
<rect x="513.6" y="246.80" width="56.60" height="1.20" fill="#EFF3FF"/>
<rect x="513.6" y="248.00" width="56.60" height="5.60" fill="#BDD7E7"/>
<rect x="513.6" y="253.60" width="56.60" height="1.90" fill="#EFF3FF"/>
<rect x="513.6" y="255.50" width="56.60" height="4.90" fill="#BDD7E7"/>
<rect x="513.6" y="260.40" width="56.60" height="1.20" fill="#EFF3FF"/>
<rect x="513.6" y="261.60" width="56.60" height="4.40" fill="#BDD7E7"/>
<rect x="513.6" y="266.00" width="56.60" height="2.80" fill="#EFF3FF"/>
<rect x="570.2" y="229.80" width="56.60" height="2.80" fill="#2171B5"/>
<rect x="570.2" y="232.60" width="56.60" height="1.20" fill="#6BAED6"/>
<rect x="570.2" y="233.80" width="56.60" height="3.10" fill="#2171B5"/>
<rect x="570.2" y="236.90" width="56.60" height="1.20" fill="#6BAED6"/>
<rect x="570.2" y="238.10" width="56.60" height="2.50" fill="#2171B5"/>
<rect x="570.2" y="240.60" width="56.60" height="5.80" fill="#6BAED6"/>
<rect x="570.2" y="246.40" width="56.60" height="2.30" fill="#2171B5"/>
<rect x="570.2" y="248.70" width="56.60" height="2.40" fill="#6BAED6"/>
<rect x="570.2" y="251.10" width="56.60" height="7.50" fill="#2171B5"/>
<rect x="570.2" y="258.60" width="56.60" height="2.40" fill="#6BAED6"/>
<rect x="570.2" y="261.00" width="56.60" height="5.00" fill="#2171B5"/>
<rect x="570.2" y="266.00" width="56.60" height="2.80" fill="#6BAED6"/>
<rect x="436.2" y="229.80" width="5.80" height="15.10" fill="#FFA863"/>
<rect x="436.2" y="244.90" width="5.80" height="4.40" fill="#C9AADA"/>
<rect x="436.2" y="249.30" width="5.80" height="6.20" fill="#A6D2F8"/>
<rect x="436.2" y="255.50" width="5.80" height="2.40" fill="#FFA863"/>
<rect x="436.2" y="257.90" width="5.80" height="2.90" fill="#A6D2F8"/>
<rect x="436.2" y="260.80" width="5.80" height="1.20" fill="#C9AADA"/>
<rect x="436.2" y="262.00" width="5.80" height="1.50" fill="#A6D2F8"/>
<rect x="436.2" y="263.50" width="5.80" height="1.20" fill="#C9AADA"/>
<rect x="436.2" y="264.70" width="5.80" height="2.50" fill="#A6D2F8"/>
<rect x="436.2" y="267.20" width="5.80" height="1.60" fill="#C9AADA"/>
<rect x="443.1" y="229.80" width="5.80" height="1.50" fill="#9090F8"/>
<rect x="443.1" y="231.30" width="5.80" height="1.30" fill="#84F5C3"/>
<rect x="443.1" y="232.60" width="5.80" height="5.50" fill="#9090F8"/>
<rect x="443.1" y="238.10" width="5.80" height="1.30" fill="#84F5C3"/>
<rect x="443.1" y="239.40" width="5.80" height="1.20" fill="#9090F8"/>
<rect x="443.1" y="240.60" width="5.80" height="3.10" fill="#84F5C3"/>
<rect x="443.1" y="243.70" width="5.80" height="1.50" fill="#9090F8"/>
<rect x="443.1" y="245.20" width="5.80" height="5.90" fill="#84F5C3"/>
<rect x="443.1" y="251.10" width="5.80" height="2.50" fill="#9090F8"/>
<rect x="443.1" y="253.60" width="5.80" height="1.90" fill="#84F5C3"/>
<rect x="443.1" y="255.50" width="5.80" height="2.40" fill="#9090F8"/>
<rect x="443.1" y="257.90" width="5.80" height="5.60" fill="#84F5C3"/>
<rect x="443.1" y="263.50" width="5.80" height="1.50" fill="#9090F8"/>
<rect x="443.1" y="265.00" width="5.80" height="3.80" fill="#84F5C3"/>
<rect x="449.9" y="229.8" width="5.8" height="39.00" fill="#FED9A6"/>
<rect x="456.9" y="271.00" width="56.70" height="1.30" fill="#BDD7E7"/>
<rect x="456.9" y="272.30" width="56.70" height="5.00" fill="#EFF3FF"/>
<rect x="456.9" y="277.30" width="56.70" height="1.20" fill="#BDD7E7"/>
<rect x="456.9" y="278.50" width="56.70" height="1.90" fill="#EFF3FF"/>
<rect x="456.9" y="280.40" width="56.70" height="1.20" fill="#BDD7E7"/>
<rect x="456.9" y="281.60" width="56.70" height="1.20" fill="#6BAED6"/>
<rect x="456.9" y="282.80" width="56.70" height="2.50" fill="#BDD7E7"/>
<rect x="456.9" y="285.30" width="56.70" height="1.30" fill="#6BAED6"/>
<rect x="456.9" y="286.60" width="56.70" height="1.40" fill="#BDD7E7"/>
<rect x="456.9" y="288.00" width="56.70" height="1.40" fill="#6BAED6"/>
<rect x="513.6" y="271.00" width="56.60" height="2.60" fill="#2171B5"/>
<rect x="513.6" y="273.60" width="56.60" height="3.70" fill="#6BAED6"/>
<rect x="513.6" y="277.30" width="56.60" height="1.20" fill="#2171B5"/>
<rect x="513.6" y="278.50" width="56.60" height="1.90" fill="#6BAED6"/>
<rect x="513.6" y="280.40" width="56.60" height="1.20" fill="#2171B5"/>
<rect x="513.6" y="281.60" width="56.60" height="7.80" fill="#6BAED6"/>
<rect x="570.2" y="271.00" width="56.60" height="18.40" fill="#2171B5"/>
<rect x="436.2" y="271.00" width="5.80" height="2.90" fill="#FFA863"/>
<rect x="436.2" y="273.90" width="5.80" height="1.30" fill="#A6D2F8"/>
<rect x="436.2" y="275.20" width="5.80" height="1.20" fill="#FFA863"/>
<rect x="436.2" y="276.40" width="5.80" height="1.50" fill="#A6D2F8"/>
<rect x="436.2" y="277.90" width="5.80" height="1.90" fill="#FFA863"/>
<rect x="436.2" y="279.80" width="5.80" height="1.80" fill="#A6D2F8"/>
<rect x="436.2" y="281.60" width="5.80" height="1.00" fill="#C9AADA"/>
<rect x="436.2" y="282.60" width="5.80" height="2.10" fill="#A6D2F8"/>
<rect x="436.2" y="284.70" width="5.80" height="1.20" fill="#C9AADA"/>
<rect x="436.2" y="285.90" width="5.80" height="3.50" fill="#A6D2F8"/>
<rect x="443.1" y="271.00" width="5.80" height="1.70" fill="#84F5C3"/>
<rect x="443.1" y="272.70" width="5.80" height="1.50" fill="#9090F8"/>
<rect x="443.1" y="274.20" width="5.80" height="8.70" fill="#84F5C3"/>
<rect x="443.1" y="282.90" width="5.80" height="3.00" fill="#9090F8"/>
<rect x="443.1" y="285.90" width="5.80" height="2.10" fill="#84F5C3"/>
<rect x="443.1" y="288.00" width="5.80" height="1.40" fill="#9090F8"/>
<rect x="449.9" y="271.0" width="5.8" height="18.40" fill="#FFFFCC"/>
<rect x="456.9" y="291.80" width="56.70" height="2.20" fill="#2171B5"/>
<rect x="456.9" y="294.00" width="56.70" height="1.20" fill="#6BAED6"/>
<rect x="456.9" y="295.20" width="56.70" height="4.40" fill="#2171B5"/>
<rect x="456.9" y="299.60" width="56.70" height="1.20" fill="#6BAED6"/>
<rect x="456.9" y="300.80" width="56.70" height="1.20" fill="#2171B5"/>
<rect x="456.9" y="302.00" width="56.70" height="4.40" fill="#6BAED6"/>
<rect x="456.9" y="306.40" width="56.70" height="2.40" fill="#2171B5"/>
<rect x="456.9" y="308.80" width="56.70" height="1.90" fill="#6BAED6"/>
<rect x="456.9" y="310.70" width="56.70" height="6.80" fill="#2171B5"/>
<rect x="456.9" y="317.50" width="56.70" height="1.10" fill="#6BAED6"/>
<rect x="456.9" y="318.60" width="56.70" height="1.20" fill="#2171B5"/>
<rect x="513.6" y="291.80" width="56.60" height="2.80" fill="#2171B5"/>
<rect x="513.6" y="294.60" width="56.60" height="1.20" fill="#BDD7E7"/>
<rect x="513.6" y="295.80" width="56.60" height="3.10" fill="#2171B5"/>
<rect x="513.6" y="298.90" width="56.60" height="2.30" fill="#BDD7E7"/>
<rect x="513.6" y="301.20" width="56.60" height="9.50" fill="#2171B5"/>
<rect x="513.6" y="310.70" width="56.60" height="1.60" fill="#BDD7E7"/>
<rect x="513.6" y="312.30" width="56.60" height="2.10" fill="#6BAED6"/>
<rect x="513.6" y="314.40" width="56.60" height="1.60" fill="#BDD7E7"/>
<rect x="513.6" y="316.00" width="56.60" height="3.80" fill="#2171B5"/>
<rect x="570.2" y="291.80" width="56.60" height="12.70" fill="#2171B5"/>
<rect x="570.2" y="304.50" width="56.60" height="1.20" fill="#6BAED6"/>
<rect x="570.2" y="305.70" width="56.60" height="1.90" fill="#2171B5"/>
<rect x="570.2" y="307.60" width="56.60" height="1.20" fill="#6BAED6"/>
<rect x="570.2" y="308.80" width="56.60" height="7.50" fill="#2171B5"/>
<rect x="570.2" y="316.30" width="56.60" height="1.20" fill="#6BAED6"/>
<rect x="570.2" y="317.50" width="56.60" height="2.30" fill="#2171B5"/>
<rect x="436.2" y="291.80" width="5.80" height="10.20" fill="#FFA863"/>
<rect x="436.2" y="302.00" width="5.80" height="1.90" fill="#C9AADA"/>
<rect x="436.2" y="303.90" width="5.80" height="4.90" fill="#A6D2F8"/>
<rect x="436.2" y="308.80" width="5.80" height="1.90" fill="#C9AADA"/>
<rect x="436.2" y="310.70" width="5.80" height="2.30" fill="#C9AADA"/>
<rect x="436.2" y="313.00" width="5.80" height="1.00" fill="#A6D2F8"/>
<rect x="436.2" y="314.00" width="5.80" height="2.90" fill="#C9AADA"/>
<rect x="436.2" y="316.90" width="5.80" height="2.90" fill="#A6D2F8"/>
<rect x="443.1" y="291.80" width="5.80" height="2.20" fill="#84F5C3"/>
<rect x="443.1" y="294.00" width="5.80" height="8.00" fill="#9090F8"/>
<rect x="443.1" y="302.00" width="5.80" height="3.70" fill="#84F5C3"/>
<rect x="443.1" y="305.70" width="5.80" height="7.50" fill="#9090F8"/>
<rect x="443.1" y="313.20" width="5.80" height="1.20" fill="#84F5C3"/>
<rect x="443.1" y="314.40" width="5.80" height="1.30" fill="#9090F8"/>
<rect x="443.1" y="315.70" width="5.80" height="1.20" fill="#84F5C3"/>
<rect x="443.1" y="316.90" width="5.80" height="2.90" fill="#9090F8"/>
<rect x="449.9" y="291.8" width="5.8" height="28.00" fill="#E5D8BD"/>
<rect x="456.9" y="322.50" width="56.70" height="4.70" fill="#2171B5"/>
<rect x="456.9" y="327.20" width="56.70" height="0.70" fill="#6BAED6"/>
<rect x="456.9" y="327.90" width="56.70" height="3.10" fill="#2171B5"/>
<rect x="456.9" y="331.00" width="56.70" height="1.00" fill="#6BAED6"/>
<rect x="456.9" y="332.00" width="56.70" height="8.90" fill="#2171B5"/>
<rect x="456.9" y="340.90" width="56.70" height="1.20" fill="#6BAED6"/>
<rect x="456.9" y="342.10" width="56.70" height="5.30" fill="#2171B5"/>
<rect x="513.6" y="322.50" width="56.60" height="24.90" fill="#EFF3FF"/>
<rect x="570.2" y="322.50" width="56.60" height="0.90" fill="#EFF3FF"/>
<rect x="570.2" y="323.40" width="56.60" height="1.90" fill="#6BAED6"/>
<rect x="570.2" y="325.30" width="56.60" height="1.50" fill="#EFF3FF"/>
<rect x="570.2" y="326.80" width="56.60" height="1.50" fill="#6BAED6"/>
<rect x="570.2" y="328.30" width="56.60" height="2.80" fill="#EFF3FF"/>
<rect x="570.2" y="331.10" width="56.60" height="2.80" fill="#2171B5"/>
<rect x="570.2" y="333.90" width="56.60" height="3.10" fill="#6BAED6"/>
<rect x="570.2" y="337.00" width="56.60" height="1.60" fill="#EFF3FF"/>
<rect x="570.2" y="338.60" width="56.60" height="3.40" fill="#BDD7E7"/>
<rect x="570.2" y="342.00" width="56.60" height="1.80" fill="#EFF3FF"/>
<rect x="570.2" y="343.80" width="56.60" height="1.20" fill="#6BAED6"/>
<rect x="570.2" y="345.00" width="56.60" height="1.60" fill="#BDD7E7"/>
<rect x="570.2" y="346.60" width="56.60" height="0.80" fill="#6BAED6"/>
<rect x="436.2" y="322.50" width="5.80" height="9.20" fill="#FFA863"/>
<rect x="436.2" y="331.70" width="5.80" height="6.10" fill="#A6D2F8"/>
<rect x="436.2" y="337.80" width="5.80" height="1.60" fill="#FFA863"/>
<rect x="436.2" y="339.40" width="5.80" height="4.60" fill="#A6D2F8"/>
<rect x="436.2" y="344.00" width="5.80" height="1.50" fill="#C9AADA"/>
<rect x="436.2" y="345.50" width="5.80" height="1.90" fill="#A6D2F8"/>
<rect x="443.1" y="322.50" width="5.80" height="1.60" fill="#9090F8"/>
<rect x="443.1" y="324.10" width="5.80" height="2.30" fill="#84F5C3"/>
<rect x="443.1" y="326.40" width="5.80" height="1.50" fill="#9090F8"/>
<rect x="443.1" y="327.90" width="5.80" height="3.10" fill="#84F5C3"/>
<rect x="443.1" y="331.00" width="5.80" height="1.50" fill="#9090F8"/>
<rect x="443.1" y="332.50" width="5.80" height="4.60" fill="#84F5C3"/>
<rect x="443.1" y="337.10" width="5.80" height="3.80" fill="#9090F8"/>
<rect x="443.1" y="340.90" width="5.80" height="4.60" fill="#84F5C3"/>
<rect x="443.1" y="345.50" width="5.80" height="1.90" fill="#9090F8"/>
<rect x="449.9" y="322.5" width="5.8" height="24.90" fill="#FDDAEC"/>
<rect x="456.9" y="349.80" width="56.70" height="1.80" fill="#BDD7E7"/>
<rect x="456.9" y="351.60" width="56.70" height="1.50" fill="#EFF3FF"/>
<rect x="456.9" y="353.10" width="56.70" height="1.50" fill="#BDD7E7"/>
<rect x="456.9" y="354.60" width="56.70" height="5.40" fill="#EFF3FF"/>
<rect x="456.9" y="360.00" width="56.70" height="4.50" fill="#BDD7E7"/>
<rect x="456.9" y="364.50" width="56.70" height="1.50" fill="#EFF3FF"/>
<rect x="456.9" y="366.00" width="56.70" height="1.10" fill="#BDD7E7"/>
<rect x="456.9" y="367.10" width="56.70" height="4.60" fill="#EFF3FF"/>
<rect x="456.9" y="371.70" width="56.70" height="1.20" fill="#BDD7E7"/>
<rect x="456.9" y="372.90" width="56.70" height="2.80" fill="#EFF3FF"/>
<rect x="456.9" y="375.70" width="56.70" height="1.00" fill="#BDD7E7"/>
<rect x="456.9" y="376.70" width="56.70" height="2.30" fill="#EFF3FF"/>
<rect x="456.9" y="379.00" width="56.70" height="1.60" fill="#BDD7E7"/>
<rect x="456.9" y="380.60" width="56.70" height="1.50" fill="#EFF3FF"/>
<rect x="456.9" y="382.10" width="56.70" height="6.10" fill="#BDD7E7"/>
<rect x="456.9" y="388.20" width="56.70" height="1.20" fill="#EFF3FF"/>
<rect x="513.6" y="349.80" width="56.60" height="1.80" fill="#2171B5"/>
<rect x="513.6" y="351.60" width="56.60" height="3.80" fill="#6BAED6"/>
<rect x="513.6" y="355.40" width="56.60" height="4.60" fill="#2171B5"/>
<rect x="513.6" y="360.00" width="56.60" height="4.50" fill="#6BAED6"/>
<rect x="513.6" y="364.50" width="56.60" height="2.30" fill="#2171B5"/>
<rect x="513.6" y="366.80" width="56.60" height="3.10" fill="#6BAED6"/>
<rect x="513.6" y="369.90" width="56.60" height="0.70" fill="#2171B5"/>
<rect x="513.6" y="370.60" width="56.60" height="7.70" fill="#6BAED6"/>
<rect x="513.6" y="378.30" width="56.60" height="1.50" fill="#2171B5"/>
<rect x="513.6" y="379.80" width="56.60" height="6.90" fill="#6BAED6"/>
<rect x="513.6" y="386.70" width="56.60" height="2.70" fill="#2171B5"/>
<rect x="570.2" y="349.80" width="56.60" height="3.30" fill="#6BAED6"/>
<rect x="570.2" y="353.10" width="56.60" height="3.00" fill="#BDD7E7"/>
<rect x="570.2" y="356.10" width="56.60" height="2.80" fill="#6BAED6"/>
<rect x="570.2" y="358.90" width="56.60" height="4.10" fill="#BDD7E7"/>
<rect x="570.2" y="363.00" width="56.60" height="1.10" fill="#6BAED6"/>
<rect x="570.2" y="364.10" width="56.60" height="5.00" fill="#BDD7E7"/>
<rect x="570.2" y="369.10" width="56.60" height="3.80" fill="#6BAED6"/>
<rect x="570.2" y="372.90" width="56.60" height="2.30" fill="#BDD7E7"/>
<rect x="570.2" y="375.20" width="56.60" height="0.80" fill="#6BAED6"/>
<rect x="570.2" y="376.00" width="56.60" height="3.80" fill="#BDD7E7"/>
<rect x="570.2" y="379.80" width="56.60" height="5.30" fill="#6BAED6"/>
<rect x="570.2" y="385.10" width="56.60" height="1.60" fill="#BDD7E7"/>
<rect x="570.2" y="386.70" width="56.60" height="2.70" fill="#6BAED6"/>
<rect x="436.2" y="349.80" width="5.80" height="14.70" fill="#FFA863"/>
<rect x="436.2" y="364.50" width="5.80" height="2.30" fill="#C9AADA"/>
<rect x="436.2" y="366.80" width="5.80" height="7.70" fill="#A6D2F8"/>
<rect x="436.2" y="374.50" width="5.80" height="1.50" fill="#FFA863"/>
<rect x="436.2" y="376.00" width="5.80" height="3.00" fill="#A6D2F8"/>
<rect x="436.2" y="379.00" width="5.80" height="2.30" fill="#C9AADA"/>
<rect x="436.2" y="381.30" width="5.80" height="1.50" fill="#A6D2F8"/>
<rect x="436.2" y="382.80" width="5.80" height="1.50" fill="#C9AADA"/>
<rect x="436.2" y="384.30" width="5.80" height="5.10" fill="#A6D2F8"/>
<rect x="443.1" y="349.80" width="5.80" height="7.10" fill="#84F5C3"/>
<rect x="443.1" y="356.90" width="5.80" height="4.60" fill="#9090F8"/>
<rect x="443.1" y="361.50" width="5.80" height="2.30" fill="#84F5C3"/>
<rect x="443.1" y="363.80" width="5.80" height="2.30" fill="#9090F8"/>
<rect x="443.1" y="366.10" width="5.80" height="5.30" fill="#84F5C3"/>
<rect x="443.1" y="371.40" width="5.80" height="1.50" fill="#9090F8"/>
<rect x="443.1" y="372.90" width="5.80" height="5.40" fill="#84F5C3"/>
<rect x="443.1" y="378.30" width="5.80" height="1.50" fill="#9090F8"/>
<rect x="443.1" y="379.80" width="5.80" height="3.00" fill="#84F5C3"/>
<rect x="443.1" y="382.80" width="5.80" height="1.50" fill="#9090F8"/>
<rect x="443.1" y="384.30" width="5.80" height="2.30" fill="#84F5C3"/>
<rect x="443.1" y="386.60" width="5.80" height="1.60" fill="#9090F8"/>
<rect x="443.1" y="388.20" width="5.80" height="1.20" fill="#84F5C3"/>
<rect x="449.9" y="349.8" width="5.8" height="39.60" fill="#F2F2F2"/>
</g>
<g stroke="#1c1c1c" stroke-width="1.25" fill="none">
<path d="M485.3,103.5 V73.8 H570.3 V75.9"/>
<path d="M542.1,103.5 V75.9 H598.5 V103.5"/>
</g>
<text x="485.3" y="400.3" font-size="9.7" text-anchor="middle" fill="#000">PCV13</text>
<text x="543.7" y="400.3" font-size="9.7" text-anchor="middle" fill="#000">QIV</text>
<text x="598.7" y="400.3" font-size="9.7" text-anchor="middle" fill="#000">mRNA1273</text>
<rect x="629.3" y="103.6" width="6" height="21.20" fill="#2171B5"/>
<rect x="629.3" y="124.8" width="6" height="21.40" fill="#6BAED6"/>
<rect x="629.3" y="146.2" width="6" height="21.00" fill="#BDD7E7"/>
<rect x="629.3" y="167.2" width="6" height="20.60" fill="#EFF3FF"/>
<text x="637.5" y="106.0" font-size="8.4" fill="#1a1a1a">4</text>
<text x="637.5" y="133.6" font-size="8.4" fill="#1a1a1a">3</text>
<text x="637.5" y="162.6" font-size="8.4" fill="#1a1a1a">2</text>
<path d="M763 0H583V1147Q518 1085 412.5 1023T222 930V1104Q373 1175 486 1276T646 1472H763V0Z" fill="#1a1a1a" transform="translate(637.5,190.30) scale(0.00410,-0.00410)"/>
<text x="646.2" y="106.9" font-size="9.2" font-weight="bold" fill="#000">Age group</text>
<rect x="646.2" y="109.80" width="7.6" height="7.9" fill="#C9AADA"/>
<text x="655.6" y="116.30" font-size="7.85" fill="#1a1a1a">young-adult</text>
<rect x="646.2" y="117.73" width="7.6" height="7.9" fill="#A6D2F8"/>
<text x="655.6" y="124.23" font-size="7.85" fill="#1a1a1a">middle-aged</text>
<rect x="646.2" y="125.66" width="7.6" height="7.9" fill="#FFA863"/>
<text x="655.6" y="132.16" font-size="7.85" fill="#1a1a1a">older-adult</text>
<text x="646.2" y="143.9" font-size="9.2" font-weight="bold" fill="#000">Sex</text>
<rect x="646.2" y="146.10" width="7.6" height="7.9" fill="#9090F8"/>
<text x="655.6" y="152.60" font-size="7.85" fill="#1a1a1a">male</text>
<rect x="646.2" y="154.03" width="7.6" height="7.9" fill="#84F5C3"/>
<text x="655.6" y="160.53" font-size="7.85" fill="#1a1a1a">female</text>
<text x="646.2" y="172.4" font-size="9.2" font-weight="bold" fill="#000">Cluster</text>
<rect x="646.2" y="174.70" width="7.6" height="7.9" fill="#FBB4AE"/>
<text x="655.6" y="181.20" font-size="7.85" fill="#1a1a1a">cluster1</text>
<rect x="646.2" y="182.74" width="7.6" height="7.9" fill="#B3CDE3"/>
<text x="655.6" y="189.24" font-size="7.85" fill="#1a1a1a">cluster2</text>
<rect x="646.2" y="190.78" width="7.6" height="7.9" fill="#CCEBC5"/>
<text x="655.6" y="197.28" font-size="7.85" fill="#1a1a1a">cluster3</text>
<rect x="646.2" y="198.82" width="7.6" height="7.9" fill="#DECBE4"/>
<text x="655.6" y="205.32" font-size="7.85" fill="#1a1a1a">cluster4</text>
<rect x="646.2" y="206.86" width="7.6" height="7.9" fill="#FED9A6"/>
<text x="655.6" y="213.36" font-size="7.85" fill="#1a1a1a">cluster5</text>
<rect x="646.2" y="214.90" width="7.6" height="7.9" fill="#FFFFCC"/>
<text x="655.6" y="221.40" font-size="7.85" fill="#1a1a1a">cluster6</text>
<rect x="646.2" y="222.94" width="7.6" height="7.9" fill="#E5D8BD"/>
<text x="655.6" y="229.44" font-size="7.85" fill="#1a1a1a">cluster7</text>
<rect x="646.2" y="230.98" width="7.6" height="7.9" fill="#FDDAEC"/>
<text x="655.6" y="237.48" font-size="7.85" fill="#1a1a1a">cluster8</text>
<rect x="646.2" y="239.02" width="7.6" height="7.9" fill="#F2F2F2"/>
<text x="655.6" y="245.52" font-size="7.85" fill="#1a1a1a">cluster9</text>
</svg>
</body></html>
